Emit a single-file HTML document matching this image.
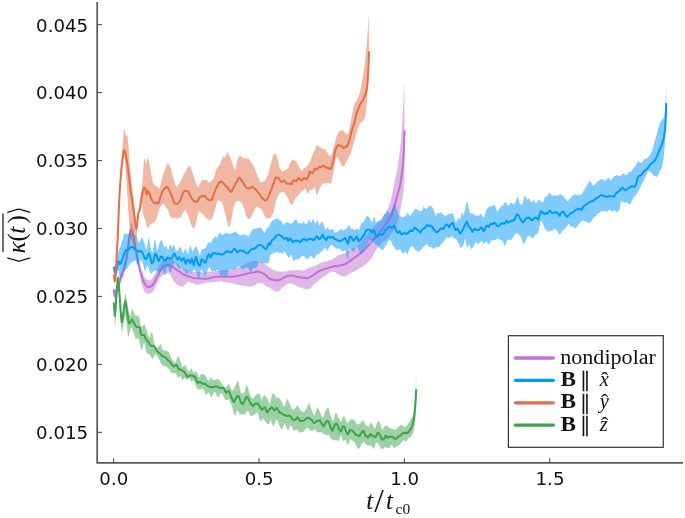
<!DOCTYPE html>
<html><head><meta charset="utf-8"><title>plot</title>
<style>
html,body{margin:0;padding:0;background:#fff;}
body{width:685px;height:518px;overflow:hidden;}
svg{display:block;}
.tk{font-family:"DejaVu Sans","Liberation Sans",sans-serif;font-size:18.2px;fill:#111;}
.lg{font-family:"Liberation Serif","DejaVu Serif",serif;font-size:20.5px;fill:#111;}
.hat{font-family:"Liberation Serif",serif;font-size:22px;fill:#111;}
.br{font-family:"DejaVu Sans",sans-serif;stroke:#fff;stroke-width:0.55px;}
.gl{font-family:"Liberation Serif","DejaVu Serif",serif;font-size:25px;fill:#111;}
</style></head><body>
<svg width="685" height="518" viewBox="0 0 685 518">
<rect width="685" height="518" fill="#fff"/>
<path d="M113.7,287.0 L114.6,291.0 L114.7,290.9 L115.7,288.0 L116.0,286.9 L116.7,284.9 L117.7,281.9 L118.0,280.9 L118.7,278.8 L119.7,275.7 L120.0,274.9 L120.7,273.2 L121.7,270.7 L122.0,269.9 L122.7,267.8 L123.7,264.6 L124.0,263.5 L124.7,260.9 L125.7,256.6 L126.0,255.0 L126.7,250.7 L127.5,245.0 L127.7,243.5 L128.7,235.2 L129.0,233.0 L129.7,228.3 L130.3,225.0 L130.7,223.1 L131.3,221.3 L131.7,222.0 L132.3,223.9 L132.7,225.6 L133.5,230.0 L133.7,231.2 L134.7,238.0 L135.0,240.0 L135.7,244.1 L136.4,248.0 L136.7,249.7 L137.7,255.0 L138.7,260.1 L139.0,261.4 L139.7,264.2 L140.7,267.8 L141.7,270.8 L141.8,270.9 L142.7,273.1 L143.7,275.5 L144.5,277.1 L144.7,277.4 L145.7,278.5 L146.7,279.4 L147.2,279.8 L147.7,280.0 L148.7,279.9 L149.7,280.2 L149.9,280.7 L150.7,280.3 L151.7,279.1 L152.6,277.8 L152.7,277.5 L153.7,275.8 L154.7,274.0 L155.3,272.9 L155.7,272.3 L156.7,270.3 L157.7,268.1 L158.6,266.3 L158.7,266.0 L159.7,264.4 L160.7,262.8 L161.7,261.4 L162.0,261.2 L162.7,260.6 L163.7,259.8 L164.7,259.3 L165.4,258.8 L165.7,258.6 L166.7,258.2 L167.7,258.0 L168.7,258.2 L168.8,258.4 L169.7,258.6 L170.7,259.0 L171.7,259.7 L172.7,260.2 L172.8,260.0 L173.7,260.7 L174.7,261.6 L175.7,262.5 L176.7,263.3 L176.9,263.4 L177.7,263.9 L178.7,264.5 L179.7,265.4 L180.7,266.2 L180.9,266.1 L181.7,266.5 L182.7,267.3 L183.7,268.3 L184.7,269.1 L185.7,269.3 L186.4,269.6 L186.7,269.7 L187.7,270.0 L188.7,270.5 L189.7,270.9 L190.7,271.4 L191.7,272.1 L191.8,272.1 L192.7,272.1 L193.7,272.0 L194.7,272.0 L195.7,272.3 L196.7,272.2 L197.2,272.0 L197.7,272.3 L198.7,272.4 L199.7,272.2 L200.7,272.1 L201.7,272.3 L202.7,272.7 L203.7,272.7 L204.7,272.6 L205.3,272.4 L205.7,272.2 L206.7,272.1 L207.7,271.9 L208.7,271.8 L209.7,271.6 L210.7,271.7 L211.7,272.0 L212.7,271.8 L213.7,271.7 L214.7,271.7 L215.0,271.5 L215.7,271.1 L216.7,271.0 L217.7,271.1 L218.7,271.1 L219.7,270.6 L220.6,270.5 L220.7,270.7 L221.7,270.5 L222.7,270.1 L223.7,269.9 L224.7,270.1 L225.7,270.2 L226.7,269.9 L227.0,269.6 L227.7,269.9 L228.7,270.3 L229.7,270.0 L230.7,269.5 L231.7,269.3 L232.7,269.0 L233.2,268.7 L233.7,268.4 L234.7,268.0 L235.7,267.5 L236.7,267.5 L237.7,267.7 L238.7,267.3 L239.7,266.6 L240.7,266.3 L241.7,266.0 L242.7,265.5 L243.7,265.1 L244.7,264.5 L245.7,263.8 L246.7,263.2 L247.7,262.7 L248.7,262.4 L249.7,262.2 L250.7,262.0 L250.8,261.7 L251.7,261.3 L252.7,261.0 L253.7,260.9 L254.7,260.8 L255.7,260.8 L255.8,261.0 L256.7,261.0 L257.7,261.2 L258.7,261.7 L259.7,261.7 L260.7,261.6 L260.8,261.4 L261.7,261.4 L262.7,262.0 L263.7,263.0 L264.7,264.1 L265.7,264.7 L265.8,264.6 L266.7,265.3 L267.7,266.2 L268.7,267.1 L269.7,267.7 L270.0,267.6 L270.7,268.1 L271.7,268.9 L272.7,269.4 L273.7,269.8 L274.7,270.2 L275.0,270.1 L275.7,270.5 L276.7,271.0 L277.7,271.4 L278.7,271.5 L279.7,271.5 L280.0,271.5 L280.7,271.7 L281.7,271.6 L282.7,271.5 L283.7,271.6 L284.7,271.5 L285.0,271.5 L285.7,271.5 L286.7,271.4 L287.7,271.1 L288.7,270.5 L289.7,270.4 L290.0,270.6 L290.7,270.4 L291.7,270.1 L292.7,270.4 L293.7,270.5 L294.7,270.1 L295.7,270.0 L296.0,270.2 L296.7,270.2 L297.7,270.0 L298.7,269.8 L299.7,269.9 L300.7,270.4 L301.7,270.5 L302.7,270.4 L303.7,270.6 L304.7,270.5 L305.7,269.7 L306.7,268.8 L307.7,268.5 L308.7,268.2 L309.7,267.9 L310.0,267.7 L310.7,267.4 L311.7,266.9 L312.7,266.3 L313.7,266.3 L314.7,266.0 L315.7,265.3 L316.7,264.8 L317.7,264.4 L318.7,264.0 L319.7,263.3 L320.7,262.6 L321.7,262.5 L322.7,262.1 L323.7,261.6 L324.7,261.4 L325.0,261.5 L325.7,261.4 L326.7,261.2 L327.7,260.9 L328.7,260.4 L329.7,260.1 L330.7,260.1 L331.7,259.8 L332.7,259.0 L332.8,258.7 L333.7,258.3 L334.7,257.9 L335.7,257.3 L336.7,256.4 L337.7,255.6 L338.7,254.9 L339.7,254.6 L340.0,254.7 L340.7,254.5 L341.7,254.1 L342.7,253.7 L343.7,253.4 L344.7,253.2 L345.7,252.9 L345.8,252.8 L346.7,252.1 L347.7,251.4 L348.7,250.8 L349.7,250.1 L350.7,249.2 L351.6,248.4 L351.7,248.4 L352.7,247.9 L353.7,247.6 L354.7,247.4 L355.7,246.7 L356.7,245.9 L357.7,245.4 L358.0,245.2 L358.7,244.9 L359.7,244.3 L360.7,243.1 L361.7,241.8 L362.7,240.3 L363.7,238.6 L364.7,237.4 L365.0,237.4 L365.7,236.6 L366.7,235.1 L367.7,233.7 L368.7,232.5 L369.7,231.3 L370.7,230.1 L371.7,229.0 L372.7,227.8 L373.7,226.6 L373.8,226.5 L374.7,225.6 L375.7,224.8 L376.7,223.9 L377.7,222.7 L378.7,221.8 L379.6,220.9 L379.7,220.6 L380.7,219.4 L381.7,218.4 L382.7,217.2 L383.7,215.5 L384.7,213.8 L385.7,212.2 L386.7,210.8 L387.7,209.0 L388.4,207.4 L388.7,206.6 L389.7,203.6 L390.5,200.9 L390.7,200.1 L391.7,196.3 L392.0,195.1 L392.7,191.6 L393.6,187.0 L393.7,186.5 L394.7,181.5 L395.0,180.0 L395.7,176.6 L396.7,171.6 L397.0,170.0 L397.7,165.8 L398.7,159.2 L399.0,157.0 L399.7,151.7 L400.7,143.0 L401.0,140.0 L401.7,131.7 L402.5,120.0 L402.7,116.5 L403.5,100.0 L403.7,94.7 L404.3,81.7 L404.5,130.2 L404.5,130.2 L404.4,180.0 L403.7,189.4 L403.3,192.0 L403.0,195.0 L402.7,197.2 L401.7,202.7 L401.5,203.8 L400.7,208.4 L399.7,213.7 L399.3,215.4 L398.7,217.7 L397.7,220.7 L396.7,223.4 L396.4,224.2 L395.7,225.9 L394.7,228.1 L393.7,229.9 L392.7,231.7 L391.7,233.2 L390.7,234.5 L389.7,235.7 L388.7,237.0 L387.7,238.1 L386.9,238.9 L386.7,239.0 L385.7,239.9 L384.7,240.7 L383.7,241.4 L382.7,241.9 L381.7,242.8 L381.0,243.7 L380.7,244.0 L379.7,245.1 L378.7,246.2 L377.7,247.5 L377.0,248.5 L376.7,249.0 L375.7,250.5 L374.8,251.9 L374.7,251.9 L373.7,254.0 L372.7,256.1 L372.4,256.7 L371.7,257.7 L370.7,259.0 L369.7,260.3 L369.0,261.2 L368.7,261.5 L367.7,262.3 L366.7,263.0 L365.7,264.1 L364.7,265.0 L363.7,265.9 L363.2,266.4 L362.7,266.6 L361.7,267.0 L360.7,267.4 L359.7,268.0 L358.7,268.7 L357.7,269.2 L357.4,269.4 L356.7,270.2 L355.7,270.9 L354.7,271.3 L353.7,271.7 L352.7,272.2 L351.7,272.5 L351.0,272.8 L350.7,272.9 L349.7,273.5 L348.7,274.1 L348.0,274.5 L347.7,274.9 L346.7,275.8 L345.7,276.4 L344.7,276.5 L344.0,276.4 L343.7,276.5 L342.7,276.3 L341.7,275.9 L340.7,275.5 L339.7,274.9 L338.7,274.3 L338.0,274.1 L337.7,274.2 L336.7,273.5 L335.7,272.6 L334.7,272.1 L333.7,271.8 L332.8,271.5 L332.7,271.4 L331.7,271.7 L330.7,272.2 L329.7,272.6 L328.7,273.3 L327.7,274.0 L326.7,274.5 L326.0,275.1 L325.7,275.5 L324.7,276.0 L323.7,276.4 L322.7,277.1 L321.7,278.2 L320.7,279.1 L320.3,279.2 L319.7,279.5 L318.7,280.5 L317.7,281.4 L316.7,282.2 L315.7,282.9 L314.7,283.4 L314.0,283.9 L313.7,284.3 L312.7,285.6 L311.7,287.0 L310.7,288.0 L309.7,288.6 L308.7,289.2 L307.7,289.3 L306.7,289.2 L305.7,289.4 L304.7,289.3 L303.7,288.7 L302.7,288.2 L301.7,287.7 L300.7,287.5 L299.7,287.4 L298.7,287.0 L298.0,286.6 L297.7,286.5 L296.7,286.1 L295.7,285.7 L294.7,285.0 L293.7,284.3 L292.7,283.8 L291.7,283.4 L290.7,283.5 L290.0,283.8 L289.7,283.7 L288.7,283.6 L287.7,283.7 L286.7,284.2 L285.7,285.1 L284.7,286.2 L283.7,286.8 L283.0,287.0 L282.7,287.5 L281.7,288.6 L280.7,289.5 L279.7,290.7 L278.7,291.6 L277.7,292.2 L277.5,292.2 L276.7,291.5 L275.7,291.0 L274.7,290.7 L273.7,290.4 L272.7,289.7 L271.7,289.1 L270.7,288.3 L270.0,287.6 L269.7,287.5 L268.7,287.4 L267.7,286.8 L266.7,286.4 L265.8,285.9 L265.7,285.7 L264.7,285.1 L263.7,284.3 L262.7,283.4 L261.7,282.9 L260.8,283.1 L260.7,283.0 L259.7,283.0 L258.7,283.3 L257.7,283.5 L256.7,283.8 L255.8,284.5 L255.7,284.8 L254.7,285.2 L253.7,285.6 L252.7,286.0 L251.7,286.6 L250.8,286.8 L250.7,286.7 L249.7,286.6 L248.7,286.5 L247.7,286.5 L246.7,286.1 L245.7,285.8 L244.7,286.0 L243.7,285.8 L242.7,285.5 L241.7,285.7 L240.7,285.6 L239.7,285.1 L238.7,285.1 L237.7,285.2 L236.7,284.8 L235.7,284.5 L234.7,284.1 L233.7,283.7 L233.2,283.7 L232.7,283.5 L231.7,283.3 L230.7,283.1 L229.7,282.7 L228.7,282.7 L227.7,282.8 L227.0,282.4 L226.7,282.2 L225.7,282.2 L224.7,282.2 L223.7,282.2 L222.7,281.6 L221.7,281.1 L220.7,281.1 L220.6,281.3 L219.7,281.3 L218.7,281.4 L217.7,281.6 L216.7,281.5 L215.7,281.8 L215.0,282.3 L214.7,282.2 L213.7,282.1 L212.7,282.1 L211.7,282.0 L210.7,282.3 L209.7,282.4 L208.7,282.4 L208.0,282.4 L207.7,282.4 L206.7,282.6 L205.7,282.7 L204.7,283.0 L203.7,283.5 L202.7,284.0 L202.6,284.0 L201.7,283.9 L200.7,283.8 L199.7,284.1 L198.7,284.6 L197.7,284.8 L197.2,284.8 L196.7,285.0 L195.7,284.7 L194.7,284.1 L193.7,283.5 L193.1,283.2 L192.7,283.1 L191.7,283.1 L190.7,282.7 L189.7,282.1 L189.0,281.9 L188.7,281.8 L187.7,282.0 L186.7,283.0 L185.7,284.2 L185.0,284.6 L184.7,284.8 L183.7,285.8 L182.7,286.6 L181.7,286.8 L181.6,286.4 L180.7,286.3 L179.7,286.0 L179.6,285.7 L178.7,285.2 L177.7,284.8 L176.7,284.0 L176.2,283.5 L175.7,283.1 L174.7,282.1 L173.7,281.1 L173.5,280.9 L172.7,279.4 L171.7,277.2 L170.8,275.7 L170.7,275.6 L169.7,274.2 L168.7,273.1 L168.1,273.1 L167.7,273.2 L166.7,273.3 L165.7,273.8 L164.7,274.3 L164.0,274.4 L163.7,274.5 L162.7,275.2 L161.7,276.1 L160.7,277.1 L159.7,278.6 L158.7,280.4 L157.7,282.4 L157.3,283.1 L156.7,284.3 L155.7,286.5 L154.7,288.4 L153.9,290.0 L153.7,290.4 L152.7,291.5 L151.7,292.5 L151.2,292.7 L150.7,292.9 L149.7,293.6 L148.7,294.2 L148.5,294.2 L147.7,293.8 L146.7,293.4 L145.8,292.9 L145.7,292.7 L144.7,291.5 L143.7,289.7 L143.1,288.5 L142.7,287.5 L141.7,284.4 L141.0,281.7 L140.7,280.4 L139.7,274.9 L139.0,271.0 L138.7,269.6 L137.7,265.0 L136.7,260.4 L136.4,259.0 L135.7,255.5 L135.0,252.0 L134.7,250.4 L133.7,245.0 L133.5,244.0 L132.7,239.6 L132.3,238.0 L131.7,236.3 L131.3,235.8 L130.7,237.4 L130.3,239.1 L129.7,242.2 L129.0,247.0 L128.7,249.3 L127.7,257.6 L127.5,259.0 L126.7,263.6 L126.0,267.0 L125.7,268.2 L124.7,272.1 L124.0,274.4 L123.7,275.4 L122.7,278.1 L122.0,280.0 L121.7,280.8 L120.7,283.2 L120.0,285.0 L119.7,285.8 L118.7,288.8 L118.0,291.0 L117.7,291.9 L116.7,294.9 L116.0,297.0 L115.7,298.0 L114.7,301.0 L114.6,301.0 L113.7,292.0Z" fill="#C271D2" fill-opacity="0.5" stroke="none"/>
<path d="M113.7,289.3 L114.6,296.0 L114.7,295.9 L115.7,293.0 L116.0,292.0 L116.7,289.9 L117.7,286.9 L118.0,286.0 L118.7,283.9 L119.7,280.8 L120.0,279.9 L120.7,278.2 L121.7,275.8 L122.0,275.0 L122.7,273.0 L123.7,269.9 L124.0,269.0 L124.7,266.5 L125.7,262.4 L126.0,261.0 L126.7,257.2 L127.5,252.0 L127.7,250.5 L128.7,242.2 L129.0,240.0 L129.7,235.2 L130.3,232.0 L130.7,230.3 L131.3,229.2 L131.7,229.5 L132.3,231.0 L132.7,232.6 L133.5,237.0 L133.7,238.1 L134.7,244.3 L135.0,246.0 L135.7,249.6 L136.4,253.0 L136.7,254.5 L137.7,259.5 L138.7,264.2 L139.0,265.5 L139.7,268.5 L140.7,272.5 L141.0,273.6 L141.7,276.1 L142.7,279.4 L143.1,280.5 L143.7,281.8 L144.7,283.6 L145.7,285.0 L145.8,285.1 L146.7,286.2 L147.7,287.2 L148.5,287.3 L148.7,287.0 L149.7,286.6 L150.7,286.3 L151.2,286.4 L151.7,286.1 L152.7,284.8 L153.7,283.4 L153.9,283.2 L154.7,281.7 L155.7,279.6 L156.7,277.5 L157.3,276.4 L157.7,275.7 L158.7,273.7 L159.7,271.8 L160.7,270.1 L161.7,268.6 L162.7,267.3 L163.7,266.3 L164.0,266.2 L164.7,265.9 L165.7,265.4 L166.7,265.1 L167.4,264.9 L167.7,264.7 L168.7,264.9 L169.7,265.5 L170.7,265.9 L171.5,266.3 L171.7,266.3 L172.7,266.9 L173.7,267.6 L174.7,268.4 L175.5,269.0 L175.7,269.1 L176.7,269.9 L177.7,270.6 L178.7,271.2 L179.6,271.7 L179.7,271.7 L180.7,272.4 L181.7,273.3 L182.7,273.9 L183.7,274.5 L184.7,275.0 L185.0,275.1 L185.7,275.4 L186.7,275.9 L187.7,276.3 L188.7,276.5 L189.7,276.8 L190.4,277.0 L190.7,277.1 L191.7,277.4 L192.7,277.8 L193.7,278.1 L194.7,278.2 L195.7,278.3 L195.8,278.3 L196.7,278.3 L197.7,278.4 L198.7,278.5 L199.7,278.5 L200.7,278.6 L201.7,278.6 L202.6,278.5 L202.7,278.6 L203.7,278.7 L204.7,278.7 L205.7,278.7 L206.7,278.7 L207.7,278.6 L208.7,278.4 L209.3,278.2 L209.7,278.1 L210.7,277.8 L211.7,277.5 L212.7,277.4 L213.7,277.3 L214.7,277.1 L215.0,276.9 L215.7,276.8 L216.7,276.8 L217.7,276.8 L218.7,276.8 L219.7,276.7 L220.6,276.6 L220.7,276.5 L221.7,276.6 L222.7,276.7 L223.7,276.7 L224.7,276.7 L225.7,276.7 L226.7,276.7 L227.0,276.6 L227.7,276.6 L228.7,276.8 L229.7,277.0 L230.7,276.9 L231.7,276.5 L232.7,276.5 L233.2,276.7 L233.7,276.6 L234.7,276.4 L235.7,276.3 L236.7,276.2 L237.7,275.9 L238.7,275.7 L239.0,275.7 L239.7,275.5 L240.7,275.1 L241.7,274.8 L242.7,274.6 L243.7,274.4 L244.7,274.3 L245.7,274.0 L246.7,273.7 L247.7,273.4 L248.7,273.2 L249.7,273.0 L250.7,272.7 L251.7,272.5 L252.0,272.7 L252.7,272.6 L253.7,272.5 L254.7,272.3 L255.7,271.9 L256.7,271.7 L257.7,271.5 L258.3,271.5 L258.7,271.6 L259.7,272.0 L260.7,272.3 L261.7,272.8 L262.0,272.9 L262.7,273.2 L263.7,273.9 L264.7,274.7 L265.7,275.2 L265.8,274.9 L266.7,276.0 L267.7,277.3 L268.7,278.2 L269.7,278.9 L270.0,279.0 L270.7,279.1 L271.7,279.5 L272.7,279.9 L273.7,280.0 L274.7,280.1 L275.7,280.3 L276.7,280.5 L277.5,280.5 L277.7,280.3 L278.7,280.3 L279.7,280.0 L280.7,279.3 L281.7,278.7 L282.7,278.1 L283.0,277.9 L283.7,277.6 L284.7,277.4 L285.7,276.7 L286.7,276.1 L287.7,275.9 L288.7,275.8 L289.7,275.6 L290.0,275.6 L290.7,275.6 L291.7,275.5 L292.7,275.6 L293.7,275.8 L294.7,276.2 L295.7,276.5 L296.7,276.8 L297.7,277.0 L298.0,277.0 L298.7,277.1 L299.7,277.2 L300.7,277.3 L301.7,277.6 L302.7,277.7 L303.7,277.7 L304.7,277.9 L305.7,278.0 L306.7,278.1 L307.7,278.2 L308.7,277.9 L309.7,277.4 L310.7,276.7 L311.7,276.0 L312.7,275.4 L313.7,274.8 L314.0,274.4 L314.7,274.1 L315.7,273.5 L316.7,272.7 L317.7,272.0 L318.7,271.4 L319.7,270.8 L320.3,270.5 L320.7,270.4 L321.7,270.0 L322.7,269.5 L323.7,269.2 L324.7,268.9 L325.7,268.7 L326.0,268.6 L326.7,268.4 L327.7,268.0 L328.7,267.7 L329.7,267.4 L330.7,267.1 L331.7,266.9 L332.7,266.8 L332.8,266.7 L333.7,266.3 L334.7,266.0 L335.7,266.0 L336.7,266.2 L337.7,266.3 L338.7,266.1 L339.7,265.6 L340.0,265.5 L340.7,265.3 L341.7,265.0 L342.7,264.9 L343.7,264.7 L344.7,264.3 L345.7,263.8 L345.8,263.7 L346.7,263.2 L347.7,262.3 L348.7,261.7 L349.7,261.1 L350.7,260.3 L351.6,259.6 L351.7,259.6 L352.7,259.0 L353.7,258.3 L354.7,257.5 L355.7,256.6 L356.7,256.0 L357.4,255.5 L357.7,255.4 L358.7,254.7 L359.7,254.0 L360.7,253.2 L361.7,252.5 L362.7,251.3 L363.2,250.8 L363.7,250.5 L364.7,249.6 L365.7,248.6 L366.7,247.5 L367.7,246.4 L368.7,245.3 L369.0,244.9 L369.7,244.1 L370.7,243.1 L371.7,242.0 L372.7,240.6 L373.7,239.2 L374.7,238.1 L374.8,238.2 L375.7,237.1 L376.7,235.9 L377.7,234.7 L378.7,233.5 L379.7,232.2 L380.6,230.9 L380.7,230.9 L381.7,229.9 L382.7,228.7 L383.7,227.3 L384.7,226.0 L385.7,224.6 L386.3,223.6 L386.7,223.1 L387.7,221.6 L388.7,220.1 L389.5,218.6 L389.7,218.1 L390.7,216.6 L391.5,215.0 L391.7,214.5 L392.7,211.4 L393.7,208.0 L394.7,204.8 L395.7,201.4 L395.8,201.0 L396.7,197.4 L397.2,195.4 L397.7,193.7 L398.7,190.6 L399.4,188.0 L399.7,186.7 L400.7,181.8 L401.0,180.0 L401.7,174.9 L402.3,170.0 L402.7,167.1 L403.2,162.8 L403.7,154.8 L404.0,148.0 L404.5,130.2" fill="none" stroke="#C271D2" stroke-width="2" stroke-linejoin="round" stroke-linecap="butt"/>
<path d="M113.8,262.0 L114.8,267.1 L115.4,268.1 L115.8,267.5 L116.8,262.1 L117.8,255.1 L118.4,252.2 L118.8,250.8 L119.8,248.0 L120.0,247.5 L120.8,245.3 L121.8,242.1 L122.5,239.9 L122.8,239.0 L123.8,235.3 L124.8,233.1 L125.0,233.4 L125.8,233.8 L126.8,234.4 L127.5,233.6 L127.8,233.8 L128.8,233.4 L129.8,231.9 L130.0,230.8 L130.8,231.8 L131.8,233.7 L132.8,234.6 L133.0,234.7 L133.8,234.8 L134.8,235.1 L135.8,235.2 L136.4,235.1 L136.8,236.4 L137.0,237.2 L137.8,240.0 L138.8,242.6 L139.0,242.7 L139.8,241.5 L140.8,239.0 L141.8,237.5 L142.8,239.0 L143.8,241.6 L144.8,244.6 L145.1,245.3 L145.8,248.1 L146.5,250.2 L146.8,249.5 L147.8,241.3 L148.5,237.7 L148.8,238.1 L149.8,242.9 L150.8,248.7 L151.2,250.0 L151.8,251.3 L152.6,252.4 L152.8,252.0 L153.8,245.3 L154.8,239.3 L155.0,239.1 L155.8,241.9 L156.8,249.3 L157.3,250.9 L157.8,249.9 L158.8,245.7 L159.8,242.0 L160.0,241.7 L160.8,240.8 L161.8,240.0 L162.0,240.2 L162.8,243.4 L163.8,247.6 L164.0,247.5 L164.8,246.9 L165.8,245.9 L166.0,245.8 L166.8,246.9 L167.8,249.7 L168.1,250.2 L168.8,248.7 L169.8,245.3 L170.1,245.0 L170.8,244.9 L171.8,246.7 L172.2,247.8 L172.8,246.8 L173.8,244.8 L174.2,244.9 L174.8,246.6 L175.8,250.7 L176.2,251.0 L176.8,250.8 L177.8,250.2 L178.8,249.5 L178.9,248.4 L179.8,247.3 L180.8,247.4 L180.9,247.3 L181.8,249.7 L182.8,252.7 L183.0,253.0 L183.8,252.1 L184.8,249.4 L185.7,248.7 L185.8,248.8 L186.8,251.7 L187.7,254.7 L187.8,253.9 L188.8,250.8 L189.8,246.3 L190.4,245.2 L190.8,245.9 L191.8,250.1 L192.4,251.5 L192.8,251.4 L193.8,249.6 L194.8,247.4 L195.8,246.5 L196.8,247.3 L197.8,250.0 L198.5,252.0 L198.8,253.2 L199.8,255.9 L199.9,255.1 L200.8,252.5 L201.8,249.7 L202.6,248.8 L202.8,248.8 L203.8,248.9 L204.8,248.4 L205.3,247.7 L205.8,247.5 L206.8,245.3 L207.8,242.9 L208.6,242.4 L208.8,242.1 L209.8,242.4 L210.7,242.6 L210.8,242.6 L211.8,241.4 L212.8,239.1 L213.4,238.8 L213.8,238.2 L214.8,236.6 L215.0,236.0 L215.8,236.8 L216.5,237.6 L216.8,238.2 L217.8,236.3 L218.8,234.3 L219.0,233.5 L219.8,233.0 L220.8,233.8 L221.8,234.6 L222.5,234.5 L222.8,234.9 L223.8,234.5 L224.8,233.5 L225.8,232.8 L226.0,232.8 L226.8,233.1 L227.8,233.4 L228.8,233.5 L229.8,234.0 L230.0,234.4 L230.8,233.7 L231.8,233.0 L232.8,233.1 L233.8,232.7 L234.7,231.7 L234.8,231.0 L235.8,231.8 L236.8,233.1 L237.8,233.7 L238.0,234.3 L238.8,234.9 L239.8,235.1 L240.8,235.3 L241.7,235.4 L241.8,235.1 L242.8,234.8 L243.8,234.7 L244.8,234.6 L245.0,234.2 L245.8,234.6 L246.8,235.8 L247.8,236.0 L248.6,235.8 L248.8,236.1 L249.8,234.6 L250.8,232.7 L251.0,232.4 L251.8,230.8 L252.8,229.3 L253.8,228.9 L254.8,228.8 L255.8,228.4 L256.8,228.1 L257.0,228.2 L257.8,228.4 L258.8,227.9 L259.8,227.4 L260.8,227.3 L261.8,228.2 L262.8,230.3 L263.0,230.4 L263.8,231.8 L264.8,233.0 L265.0,232.3 L265.8,230.8 L266.8,228.0 L267.0,228.1 L267.8,227.6 L268.8,226.8 L269.4,225.8 L269.8,224.5 L270.0,224.0 L270.8,222.7 L271.8,221.2 L272.8,220.3 L272.9,220.6 L273.8,220.2 L274.8,219.3 L275.8,218.5 L276.6,218.4 L276.8,218.7 L277.8,218.6 L278.8,219.2 L279.8,220.4 L280.2,220.0 L280.8,220.3 L281.8,222.3 L282.8,223.5 L283.1,224.5 L283.8,225.0 L284.8,223.5 L285.8,222.0 L286.0,222.0 L286.8,222.4 L287.8,222.5 L288.8,223.2 L289.0,223.6 L289.8,222.9 L290.8,223.6 L291.8,224.3 L291.9,223.3 L292.8,222.3 L293.8,221.6 L294.1,220.9 L294.8,219.7 L295.8,219.6 L296.3,220.0 L296.8,220.8 L297.8,223.0 L298.5,224.1 L298.8,223.5 L299.8,222.8 L300.8,223.3 L301.4,224.1 L301.8,223.4 L302.8,222.1 L303.8,221.6 L304.3,222.6 L304.8,223.4 L305.8,223.7 L306.8,223.9 L307.2,223.4 L307.8,222.7 L308.8,219.5 L309.1,219.1 L309.8,220.4 L310.8,223.2 L310.9,222.7 L311.8,221.7 L312.8,219.1 L313.1,218.5 L313.8,220.3 L314.8,223.0 L315.3,223.5 L315.8,222.8 L316.8,220.9 L317.4,220.4 L317.8,220.5 L318.8,223.7 L319.6,225.5 L319.8,225.2 L320.8,222.9 L321.8,221.0 L322.8,222.8 L323.8,225.2 L324.0,225.4 L324.8,228.1 L325.5,229.7 L325.8,229.7 L326.8,228.2 L327.7,227.4 L327.8,227.6 L328.8,229.1 L329.8,230.5 L329.9,230.1 L330.8,229.7 L331.8,229.0 L332.0,229.1 L332.8,229.2 L333.8,230.3 L334.2,231.2 L334.8,232.4 L335.8,232.4 L336.8,231.8 L337.2,231.5 L337.8,232.0 L338.8,231.0 L339.8,229.1 L340.1,228.8 L340.8,229.4 L341.8,229.6 L342.8,230.1 L343.0,230.8 L343.8,230.3 L344.8,229.4 L345.8,228.5 L345.9,228.9 L346.8,228.3 L347.8,226.4 L348.8,225.3 L349.6,225.4 L349.8,225.8 L350.8,229.1 L351.0,229.0 L351.8,228.7 L352.8,228.7 L353.8,229.0 L353.9,229.9 L354.8,230.2 L355.8,229.1 L356.8,228.7 L356.9,229.0 L357.8,229.3 L358.8,229.8 L359.0,229.8 L359.8,228.1 L360.8,224.2 L361.2,223.3 L361.8,222.8 L362.8,222.5 L363.8,221.5 L364.2,220.7 L364.8,219.4 L365.8,217.4 L366.4,217.1 L366.8,216.4 L367.8,215.3 L367.9,215.8 L368.8,217.1 L369.8,218.8 L370.1,219.3 L370.8,220.7 L371.8,222.1 L372.3,221.4 L372.8,221.4 L373.8,217.8 L374.5,217.0 L374.8,217.2 L375.8,222.2 L375.9,222.2 L376.8,221.9 L377.8,221.5 L378.1,221.3 L378.8,220.9 L379.8,220.8 L380.8,220.5 L381.0,220.6 L381.8,219.8 L382.8,217.6 L383.8,215.2 L384.0,214.6 L384.8,214.0 L385.8,213.7 L386.8,213.0 L386.9,211.5 L387.8,210.9 L388.8,211.9 L389.8,213.0 L390.8,212.4 L391.8,210.3 L392.0,210.0 L392.8,208.1 L393.8,205.5 L394.8,203.9 L394.9,204.0 L395.8,206.2 L396.8,210.1 L397.1,211.0 L397.8,212.7 L398.8,214.9 L399.3,215.2 L399.8,215.4 L400.8,216.5 L401.8,217.4 L402.2,217.3 L402.8,216.9 L403.8,216.7 L404.8,216.3 L405.1,216.5 L405.8,215.5 L406.8,213.4 L407.3,212.9 L407.8,213.6 L408.8,214.5 L409.8,215.6 L410.3,216.2 L410.8,215.5 L411.8,213.8 L412.8,212.2 L413.2,212.0 L413.8,211.1 L414.8,209.2 L415.8,208.6 L416.1,209.1 L416.8,209.2 L417.8,209.8 L418.8,211.0 L419.0,211.3 L419.8,211.2 L420.8,211.0 L421.8,210.9 L421.9,211.3 L422.8,208.7 L423.4,206.3 L423.8,206.4 L424.8,208.3 L425.8,209.0 L426.3,208.8 L426.8,208.7 L427.8,207.7 L428.8,206.5 L429.2,205.7 L429.8,205.7 L430.8,205.9 L431.8,206.2 L432.2,207.1 L432.8,208.0 L433.8,211.1 L434.3,212.5 L434.8,214.0 L435.8,215.9 L436.8,214.6 L437.8,212.5 L438.0,213.0 L438.8,213.6 L439.8,213.0 L440.8,212.1 L441.0,212.2 L441.8,213.1 L442.8,214.5 L443.8,215.1 L444.8,215.5 L445.8,216.3 L446.8,215.5 L447.8,214.3 L448.8,214.2 L449.7,213.7 L449.8,213.8 L450.8,213.8 L451.8,213.3 L452.6,212.9 L452.8,212.8 L453.8,215.9 L454.8,219.8 L455.8,222.2 L456.2,222.2 L456.8,221.2 L457.8,218.7 L458.4,218.2 L458.8,217.9 L459.8,219.3 L460.0,219.0 L460.8,217.3 L461.8,212.3 L462.2,212.2 L462.8,213.2 L463.6,215.9 L463.8,215.2 L464.8,210.6 L465.8,205.6 L466.8,202.6 L467.3,201.7 L467.8,202.9 L468.8,208.6 L469.5,211.7 L469.8,212.7 L470.8,213.6 L471.8,213.3 L472.4,213.4 L472.8,214.0 L473.8,214.6 L474.8,215.0 L475.3,215.4 L475.8,215.8 L476.8,216.0 L477.8,215.6 L478.2,215.6 L478.8,215.8 L479.8,214.7 L480.8,213.5 L481.2,214.1 L481.8,215.5 L482.8,216.8 L483.8,217.5 L484.0,217.3 L484.8,215.5 L485.8,211.3 L486.3,210.0 L486.8,209.3 L487.8,208.1 L488.8,207.1 L489.2,207.0 L489.8,206.7 L490.8,206.2 L491.4,205.9 L491.8,205.7 L492.8,205.8 L493.8,205.5 L494.3,204.8 L494.8,205.1 L495.8,208.1 L496.8,211.1 L497.2,211.7 L497.8,210.7 L498.8,209.3 L499.8,208.5 L500.1,208.2 L500.8,206.6 L501.8,205.5 L502.8,205.3 L503.0,205.5 L503.8,204.0 L504.8,202.3 L505.5,202.2 L505.8,202.0 L506.8,203.3 L507.8,205.2 L508.2,205.9 L508.8,205.5 L509.8,203.9 L510.4,202.9 L510.8,202.5 L511.8,202.7 L512.8,203.7 L513.3,204.5 L513.8,204.1 L514.8,203.2 L515.5,202.3 L515.8,201.3 L516.8,198.3 L517.7,196.1 L517.8,196.9 L518.8,200.1 L519.8,203.5 L519.9,203.2 L520.8,204.2 L521.8,205.5 L522.0,205.6 L522.8,203.2 L523.8,198.9 L524.8,195.4 L525.0,195.2 L525.8,196.9 L526.8,199.3 L527.2,199.7 L527.8,199.0 L528.6,198.6 L528.8,198.4 L529.8,199.6 L530.8,202.0 L531.5,202.6 L531.8,202.6 L532.8,201.1 L533.7,200.2 L533.8,199.8 L534.8,201.3 L535.8,203.6 L535.9,203.9 L536.8,202.7 L537.8,200.9 L538.8,199.2 L539.8,199.9 L540.8,201.6 L541.0,201.9 L541.8,201.9 L542.8,202.0 L543.2,201.9 L543.8,200.7 L544.7,197.3 L544.8,197.3 L545.8,196.4 L546.8,196.1 L547.6,195.7 L547.8,195.5 L548.8,193.5 L549.8,192.5 L550.8,193.9 L551.8,195.7 L552.0,195.5 L552.8,195.6 L553.8,195.7 L554.8,195.0 L554.9,194.8 L555.8,195.4 L556.8,196.0 L557.8,195.5 L558.8,194.7 L559.8,194.4 L560.0,194.3 L560.7,194.0 L560.8,194.2 L561.8,195.1 L562.8,195.7 L563.8,196.4 L564.0,197.2 L564.8,198.5 L565.8,199.4 L566.8,200.4 L567.0,201.2 L567.8,201.2 L568.8,200.2 L569.8,198.6 L570.5,197.8 L570.8,197.5 L571.8,196.4 L572.8,195.4 L573.8,194.7 L574.6,194.6 L574.8,194.4 L575.8,194.2 L576.8,194.6 L577.5,195.3 L577.8,195.5 L578.8,194.8 L579.8,194.5 L580.8,195.0 L581.8,194.2 L582.8,192.1 L583.5,190.8 L583.8,190.7 L584.8,189.2 L585.8,187.1 L586.5,185.7 L586.8,185.6 L587.8,183.7 L588.8,181.9 L589.6,181.3 L589.8,181.1 L590.8,182.0 L591.8,183.2 L592.0,184.1 L592.8,185.1 L593.8,185.4 L594.6,184.8 L594.8,184.4 L595.8,183.8 L596.8,182.4 L597.8,181.1 L598.0,181.3 L598.8,180.9 L599.8,179.9 L600.8,179.0 L601.0,179.3 L601.8,179.5 L602.8,179.3 L603.8,179.8 L604.5,180.6 L604.8,180.7 L605.8,180.4 L606.8,179.4 L607.8,177.7 L608.0,177.3 L608.8,178.2 L609.8,179.3 L610.8,180.0 L611.0,180.5 L611.8,179.5 L612.8,177.7 L613.8,176.6 L614.0,176.5 L614.8,175.9 L615.8,175.4 L616.8,174.9 L617.3,175.0 L617.8,176.0 L618.8,176.5 L619.8,175.8 L620.5,175.7 L620.8,175.5 L621.8,174.4 L622.8,173.4 L623.5,173.2 L623.8,173.9 L624.8,174.5 L625.8,174.6 L626.0,175.4 L626.8,175.3 L627.8,173.5 L628.5,172.1 L628.8,171.6 L629.8,171.9 L630.8,172.2 L631.0,171.7 L631.8,170.7 L632.8,169.0 L633.5,168.1 L633.8,167.8 L634.8,166.8 L635.8,165.5 L636.0,165.0 L636.8,163.6 L637.8,161.6 L638.6,161.1 L638.8,162.2 L639.8,162.4 L640.8,162.5 L641.5,162.6 L641.8,162.5 L642.8,161.5 L643.8,159.8 L644.5,158.4 L644.8,158.3 L645.8,158.9 L646.8,158.5 L647.0,158.1 L647.8,157.8 L648.8,156.7 L649.8,155.4 L650.0,154.8 L650.8,153.4 L651.8,151.4 L652.0,150.9 L652.8,148.4 L653.5,145.9 L653.8,144.7 L654.8,140.9 L655.0,140.2 L655.8,137.4 L656.5,135.0 L656.8,133.9 L657.8,129.7 L658.0,128.8 L658.8,126.0 L659.8,123.4 L660.0,123.2 L660.8,121.7 L661.8,120.2 L662.0,119.8 L662.8,119.1 L663.8,117.7 L664.8,111.8 L665.0,110.0 L665.8,98.0 L666.3,87.5 L666.3,103.1 L666.3,103.1 L665.8,125.0 L665.0,142.8 L664.8,145.8 L664.0,155.0 L663.8,156.8 L662.8,164.0 L662.5,165.4 L661.8,167.5 L660.8,169.7 L660.5,170.4 L659.8,171.6 L658.8,173.4 L658.5,174.0 L657.8,175.3 L656.8,176.9 L656.2,176.8 L655.8,176.2 L654.8,176.2 L653.8,176.1 L653.5,175.5 L652.8,174.6 L651.8,173.5 L651.0,172.7 L650.8,172.4 L649.8,171.6 L648.8,171.4 L648.7,170.8 L647.8,171.2 L646.8,173.8 L646.0,176.2 L645.8,176.5 L644.8,178.4 L643.8,180.3 L643.7,180.4 L642.8,181.9 L641.8,183.7 L641.5,184.7 L640.8,186.5 L639.8,188.4 L639.5,188.6 L638.8,189.9 L637.8,192.1 L637.4,192.9 L636.8,193.9 L635.8,195.1 L635.0,196.0 L634.8,196.3 L633.8,197.5 L632.8,198.8 L632.5,200.0 L631.8,201.3 L630.8,203.0 L629.8,204.5 L628.8,204.3 L627.8,202.9 L627.0,202.3 L626.8,202.4 L625.8,202.4 L624.8,202.5 L624.0,202.7 L623.8,202.6 L622.8,201.8 L621.8,201.2 L621.0,200.8 L620.8,201.3 L619.8,209.0 L618.8,210.6 L617.8,211.8 L617.0,211.9 L616.8,212.3 L615.8,211.4 L614.8,210.2 L614.0,210.3 L613.8,210.9 L612.8,211.3 L611.8,211.6 L611.0,211.6 L610.8,210.8 L609.8,209.8 L608.8,210.2 L608.0,211.0 L607.8,211.3 L606.8,211.7 L605.8,211.5 L605.0,210.7 L604.8,211.0 L603.8,211.5 L602.8,211.3 L602.0,210.8 L601.8,210.8 L600.8,211.6 L599.8,212.7 L599.0,213.5 L598.8,213.0 L597.8,213.5 L596.8,215.0 L596.0,216.1 L595.8,216.2 L594.8,217.0 L593.8,217.7 L593.0,218.2 L592.8,218.7 L591.8,220.4 L590.8,221.9 L589.8,222.8 L589.5,222.8 L588.8,223.1 L587.8,222.7 L586.8,221.7 L586.5,221.9 L585.8,221.9 L584.8,221.2 L583.8,220.2 L583.3,220.2 L582.8,220.9 L581.8,221.0 L580.8,221.6 L579.8,222.7 L579.5,223.2 L578.8,224.3 L577.8,225.6 L576.8,227.0 L575.8,228.1 L575.7,228.3 L574.8,228.1 L573.8,227.4 L572.8,226.3 L572.0,226.1 L571.8,226.9 L570.8,226.6 L569.8,225.3 L568.8,224.1 L568.2,224.0 L567.8,224.9 L566.8,226.0 L565.8,227.2 L565.5,228.0 L564.8,228.9 L563.8,229.3 L562.8,230.1 L562.5,230.8 L561.8,232.0 L560.8,233.5 L560.0,234.0 L559.8,234.7 L558.8,233.5 L557.8,231.6 L556.8,230.3 L555.8,229.3 L554.9,229.0 L554.8,228.7 L553.8,229.2 L552.8,230.5 L551.8,231.0 L551.2,230.6 L550.8,230.5 L549.8,230.9 L548.8,231.6 L547.8,232.3 L547.6,231.7 L546.8,230.4 L545.8,229.5 L545.4,229.8 L544.8,228.8 L543.8,226.1 L543.2,224.5 L542.8,223.7 L541.8,221.5 L541.5,220.9 L540.8,221.4 L540.3,222.5 L539.8,224.3 L538.8,230.4 L538.1,233.1 L537.8,233.5 L536.8,234.3 L535.8,234.8 L535.2,235.4 L534.8,236.0 L533.8,237.1 L532.8,237.8 L532.3,238.2 L531.8,238.3 L530.8,237.3 L529.8,236.1 L529.3,236.1 L528.8,236.2 L527.8,236.6 L526.8,237.5 L526.4,238.5 L525.8,240.2 L524.8,242.4 L523.8,243.7 L523.5,244.4 L522.8,242.9 L521.8,239.0 L521.3,237.7 L520.8,236.8 L519.8,235.3 L519.1,235.2 L518.8,235.3 L517.8,233.7 L516.8,233.1 L516.2,233.5 L515.8,233.4 L514.8,234.6 L514.0,235.9 L513.8,236.1 L512.8,237.7 L511.8,239.1 L511.1,240.1 L510.8,240.3 L509.8,240.1 L508.8,240.1 L507.8,239.8 L507.4,239.7 L506.8,241.1 L505.8,243.9 L504.8,246.1 L504.5,245.4 L503.8,244.1 L502.8,240.8 L502.3,240.7 L501.8,240.8 L500.8,240.0 L499.8,239.3 L498.8,238.9 L498.7,238.5 L497.8,238.5 L496.8,239.1 L495.8,239.5 L495.0,240.0 L494.8,240.2 L493.8,240.3 L492.8,240.4 L491.8,240.3 L491.4,240.3 L490.8,241.2 L489.8,243.3 L488.8,244.6 L488.5,244.3 L487.8,243.8 L486.8,241.9 L486.3,241.2 L485.8,241.7 L484.8,242.8 L483.8,243.8 L483.4,244.1 L482.8,242.8 L481.8,241.1 L481.2,241.5 L480.8,242.1 L479.8,242.6 L478.8,243.3 L478.2,244.0 L477.8,244.4 L476.8,243.1 L476.0,242.1 L475.8,242.6 L474.8,243.7 L473.9,244.9 L473.8,245.3 L472.8,247.5 L471.8,249.0 L471.7,249.6 L470.8,247.7 L469.8,244.9 L469.5,244.7 L468.8,245.1 L467.8,247.2 L467.3,247.7 L466.8,246.6 L465.8,240.6 L465.1,238.5 L464.8,239.2 L463.8,243.9 L462.9,246.6 L462.8,246.2 L461.8,247.0 L460.8,247.8 L460.0,247.8 L459.8,247.3 L459.2,244.0 L458.8,243.6 L457.8,242.4 L457.0,240.9 L456.8,240.2 L455.8,239.2 L454.8,238.5 L454.0,238.1 L453.8,238.2 L452.8,237.3 L451.9,236.3 L451.8,236.0 L450.8,237.1 L449.8,238.0 L449.0,237.9 L448.8,238.0 L447.8,237.6 L446.8,237.2 L445.8,238.4 L444.8,240.2 L444.6,240.5 L443.8,241.5 L442.8,242.7 L441.8,243.5 L441.0,244.2 L440.8,244.4 L439.8,245.9 L438.8,247.3 L438.0,247.6 L437.8,246.8 L436.8,246.9 L435.8,247.4 L435.0,248.0 L434.8,248.7 L433.8,248.8 L432.8,248.2 L432.2,247.4 L431.8,247.0 L430.8,247.5 L429.8,247.3 L429.2,247.1 L428.8,246.9 L427.8,245.3 L426.8,244.1 L426.3,244.5 L425.8,244.7 L424.8,245.6 L423.8,247.0 L423.4,247.2 L422.8,247.5 L421.8,248.8 L421.2,250.0 L420.8,250.1 L419.8,250.4 L418.8,251.6 L418.3,252.4 L417.8,251.6 L416.8,250.4 L415.8,250.1 L415.4,250.6 L414.8,249.6 L413.8,247.6 L412.8,246.5 L412.4,246.3 L411.8,246.2 L410.8,247.1 L409.8,248.4 L409.5,248.7 L408.8,250.8 L407.8,254.1 L407.3,254.0 L406.8,253.5 L405.8,251.7 L405.1,252.0 L404.8,252.2 L403.8,252.7 L402.8,253.6 L402.2,253.4 L401.8,252.7 L400.8,250.2 L400.0,248.9 L399.8,249.2 L398.8,249.6 L397.8,249.5 L397.1,249.9 L396.8,250.9 L395.8,249.5 L394.9,247.8 L394.8,247.5 L393.8,246.3 L392.8,245.2 L392.7,245.3 L391.8,243.1 L390.8,240.4 L390.5,239.7 L389.8,240.2 L388.8,240.8 L388.4,240.7 L387.8,241.5 L386.8,243.7 L385.8,245.8 L385.4,246.3 L384.8,247.1 L383.8,248.7 L382.8,250.1 L382.5,250.3 L381.8,250.0 L380.8,249.2 L379.8,248.1 L379.6,247.9 L378.8,247.5 L377.8,246.2 L376.8,244.9 L376.7,245.1 L375.8,245.0 L374.8,244.1 L373.8,242.6 L372.8,241.3 L371.8,240.3 L370.8,240.1 L369.8,240.8 L368.8,242.3 L367.9,243.7 L367.8,243.8 L366.8,246.5 L366.4,247.4 L365.8,248.3 L364.8,249.0 L363.8,249.7 L363.4,250.4 L362.8,251.4 L361.8,253.1 L360.8,254.1 L360.5,253.9 L359.8,252.8 L358.8,249.3 L358.3,248.2 L357.8,248.0 L356.8,246.7 L356.1,246.2 L355.8,246.7 L354.8,249.8 L353.9,252.0 L353.8,252.3 L352.8,251.2 L351.8,250.3 L350.8,249.4 L349.8,248.6 L349.6,248.7 L348.8,251.8 L347.8,258.1 L347.4,259.4 L346.8,257.3 L345.8,251.3 L345.2,249.9 L344.8,250.4 L343.8,251.3 L342.8,251.6 L342.3,251.0 L341.8,250.7 L340.8,250.1 L339.8,249.0 L338.8,248.3 L338.6,248.4 L337.8,248.5 L336.8,248.9 L335.8,248.5 L335.0,247.6 L334.8,247.5 L333.8,246.5 L332.8,245.2 L332.0,245.5 L331.8,245.0 L330.8,245.0 L329.9,246.0 L329.8,246.4 L328.8,248.1 L327.8,250.0 L326.9,250.8 L326.8,250.5 L325.8,249.0 L324.8,247.3 L324.7,247.4 L323.8,249.0 L322.8,250.3 L322.6,250.5 L321.8,251.0 L320.8,251.9 L319.8,252.9 L319.6,253.4 L318.8,253.9 L317.8,254.3 L316.8,254.3 L316.7,254.0 L315.8,255.8 L314.8,257.9 L313.8,258.4 L312.8,258.0 L311.8,256.8 L310.9,255.6 L310.8,255.4 L309.8,257.1 L308.8,258.6 L308.0,258.6 L307.8,258.8 L306.8,258.8 L305.8,258.4 L305.0,257.9 L304.8,257.0 L303.8,255.8 L302.8,256.1 L301.8,256.6 L300.8,256.9 L299.8,257.9 L299.2,259.1 L298.8,259.6 L297.8,259.3 L296.8,259.1 L296.3,259.1 L295.8,259.3 L294.8,259.9 L293.8,260.8 L293.4,261.0 L292.8,259.5 L291.8,255.7 L291.2,255.1 L290.8,255.1 L289.8,256.4 L289.0,257.5 L288.8,257.9 L287.8,256.3 L286.8,255.0 L285.8,253.3 L284.8,251.5 L284.6,251.1 L283.8,251.7 L282.8,253.7 L282.4,254.4 L281.8,253.5 L280.8,252.8 L279.8,252.9 L279.5,253.3 L278.8,253.0 L277.8,251.8 L277.3,251.5 L276.8,252.2 L275.8,252.7 L275.1,252.8 L274.8,252.6 L273.8,252.8 L272.9,253.4 L272.8,253.7 L271.8,253.7 L270.8,254.6 L270.0,255.4 L269.8,256.9 L269.4,261.2 L268.8,262.2 L267.8,263.2 L266.8,263.8 L266.0,263.5 L265.8,263.2 L264.8,263.2 L263.8,262.7 L262.8,262.9 L262.5,263.4 L261.8,263.2 L260.8,262.5 L259.8,262.1 L259.0,261.6 L258.8,261.4 L257.8,263.9 L256.8,266.9 L255.8,268.3 L255.6,268.1 L254.8,268.3 L253.8,268.1 L253.0,268.3 L252.8,269.3 L251.8,270.5 L250.8,271.4 L250.3,271.7 L249.8,271.3 L248.8,269.3 L247.8,267.4 L246.9,267.2 L246.8,267.7 L245.8,267.4 L244.8,267.6 L243.8,268.8 L243.5,269.3 L242.8,269.1 L241.8,268.4 L240.8,267.5 L240.0,266.9 L239.8,266.3 L238.8,266.3 L237.8,267.1 L236.8,267.7 L236.5,267.5 L235.8,267.5 L234.8,268.7 L233.8,269.9 L233.0,269.7 L232.8,268.8 L231.8,268.8 L230.8,269.3 L229.8,269.4 L229.5,269.2 L228.8,270.6 L227.8,273.5 L226.8,276.2 L226.0,277.7 L225.8,277.5 L224.8,275.8 L224.0,275.3 L223.8,275.2 L222.8,275.6 L221.8,275.7 L221.7,275.4 L220.8,275.4 L219.8,273.9 L219.5,273.1 L218.8,271.7 L217.8,270.1 L217.4,269.9 L216.8,270.0 L215.8,271.0 L215.0,271.2 L214.8,270.6 L213.8,271.2 L212.8,271.6 L212.0,271.3 L211.8,271.4 L210.8,269.8 L209.8,267.6 L209.3,266.8 L208.8,267.6 L207.8,270.0 L207.3,271.3 L206.8,272.2 L205.8,275.1 L205.3,276.3 L204.8,276.0 L203.8,274.0 L203.2,272.7 L202.8,271.6 L201.8,269.7 L201.2,269.2 L200.8,270.4 L199.8,276.5 L199.2,278.9 L198.8,278.7 L197.8,276.5 L196.8,274.1 L196.5,273.6 L195.8,271.8 L194.8,270.0 L194.5,269.6 L193.8,269.4 L192.8,271.4 L191.8,273.1 L190.8,272.4 L189.8,271.4 L189.0,270.9 L188.8,270.9 L187.8,273.3 L187.0,274.9 L186.8,274.8 L185.8,272.7 L185.7,272.3 L184.8,271.1 L183.8,270.1 L183.6,269.7 L182.8,268.5 L181.8,267.1 L181.6,266.5 L180.8,267.3 L179.8,268.9 L179.6,268.9 L178.8,268.2 L177.8,267.3 L176.9,266.1 L176.8,265.6 L175.8,263.3 L174.9,262.5 L174.8,262.7 L173.8,263.8 L172.8,265.6 L171.8,269.4 L170.8,272.0 L169.8,272.2 L169.5,272.5 L168.8,270.2 L167.8,266.6 L167.4,266.3 L166.8,268.0 L165.8,273.9 L165.4,274.8 L164.8,274.3 L164.0,273.4 L163.8,273.2 L162.8,270.5 L162.0,268.4 L161.8,268.9 L160.8,270.5 L160.7,271.3 L159.8,272.8 L158.8,273.8 L158.6,273.8 L157.8,272.1 L156.8,270.2 L156.6,270.6 L155.8,270.6 L154.8,270.6 L153.9,270.7 L153.8,270.4 L152.8,271.7 L151.8,273.2 L151.2,274.1 L150.8,273.9 L149.8,271.7 L149.2,270.0 L148.8,268.7 L147.8,265.9 L147.2,265.8 L146.8,266.2 L145.8,270.0 L145.1,271.6 L144.8,271.4 L143.8,267.1 L143.1,264.3 L142.8,263.5 L141.8,261.1 L141.0,259.8 L140.8,259.5 L139.8,261.4 L138.8,263.9 L137.8,265.3 L137.7,265.3 L136.8,264.2 L135.8,261.6 L135.0,259.7 L134.8,259.8 L133.8,261.6 L132.8,262.5 L132.7,261.5 L131.8,262.2 L130.8,263.5 L129.8,264.2 L128.8,265.3 L128.5,266.3 L127.8,267.4 L126.8,268.4 L125.8,269.4 L125.0,270.3 L124.8,270.2 L123.8,271.1 L122.8,272.2 L122.5,272.6 L121.8,274.4 L120.8,277.0 L120.0,277.8 L119.8,277.4 L118.8,271.1 L118.4,269.8 L117.8,271.1 L116.8,275.1 L115.8,278.7 L115.4,278.9 L114.8,277.8 L113.8,272.0Z" fill="#009AF9" fill-opacity="0.5" stroke="none"/>
<path d="M113.8,267.0 L114.8,272.0 L115.4,273.0 L115.8,272.4 L116.8,267.7 L117.8,262.6 L118.4,261.4 L118.8,261.6 L119.8,264.0 L120.0,264.1 L120.8,263.5 L121.8,260.6 L122.4,258.8 L122.8,257.9 L123.8,255.1 L124.8,252.4 L125.8,250.5 L126.8,249.8 L127.8,249.5 L128.8,249.0 L129.3,248.6 L129.8,248.1 L130.8,247.3 L131.8,246.9 L132.8,247.0 L133.8,247.9 L134.8,249.4 L135.0,249.4 L135.8,249.7 L136.8,250.6 L137.8,251.0 L138.4,251.3 L138.8,251.7 L139.8,251.2 L140.8,250.7 L141.0,250.9 L141.8,251.8 L142.8,253.6 L143.1,254.0 L143.8,255.8 L144.8,258.7 L145.1,258.8 L145.8,258.9 L146.8,258.2 L147.8,255.4 L148.5,253.9 L148.8,253.5 L149.8,255.4 L149.9,255.7 L150.8,259.7 L151.8,263.5 L151.9,263.5 L152.8,262.2 L153.4,261.0 L153.8,259.7 L154.8,255.1 L155.3,253.9 L155.8,254.1 L156.6,255.4 L156.8,255.8 L157.8,259.5 L158.6,261.0 L158.8,261.0 L159.8,258.7 L160.7,257.1 L160.8,256.8 L161.8,256.5 L162.0,256.8 L162.8,258.0 L163.8,259.9 L164.0,260.0 L164.8,260.7 L165.4,260.6 L165.8,260.2 L166.8,258.2 L167.4,257.5 L167.8,257.5 L168.8,258.3 L169.5,258.2 L169.8,258.2 L170.8,258.6 L171.5,258.5 L171.8,258.4 L172.8,256.4 L173.8,254.1 L174.2,253.6 L174.8,254.0 L175.8,256.6 L176.2,257.5 L176.8,258.6 L177.6,259.4 L177.8,259.3 L178.8,257.1 L178.9,257.4 L179.8,258.2 L180.3,258.9 L180.8,259.7 L181.6,260.6 L181.8,260.7 L182.8,259.0 L183.6,257.9 L183.8,257.9 L184.8,261.3 L185.7,263.9 L185.8,263.7 L186.8,260.9 L187.7,259.5 L187.8,259.7 L188.8,260.7 L189.0,260.9 L189.8,262.3 L190.4,263.1 L190.8,262.1 L191.8,258.7 L192.8,261.9 L193.8,265.3 L194.8,260.9 L195.8,256.7 L196.8,259.4 L197.8,263.0 L198.8,265.0 L199.8,265.8 L199.9,265.8 L200.8,262.7 L201.8,259.1 L201.9,259.2 L202.8,259.9 L203.8,261.3 L203.9,261.6 L204.8,262.7 L205.3,262.8 L205.8,262.1 L206.8,258.9 L207.3,257.5 L207.8,256.3 L208.8,254.3 L209.0,254.0 L209.8,255.5 L210.7,257.5 L210.8,257.4 L211.8,255.5 L212.8,253.1 L213.4,253.0 L213.8,253.3 L214.8,253.3 L215.0,253.5 L215.8,253.4 L216.8,253.4 L217.0,253.4 L217.8,253.9 L218.8,253.9 L219.8,253.8 L220.8,254.3 L221.8,254.7 L222.6,254.6 L222.8,254.3 L223.8,253.8 L224.8,253.0 L225.8,252.1 L226.8,251.3 L227.8,251.3 L228.8,251.9 L229.8,252.3 L230.8,252.3 L231.0,252.4 L231.8,251.9 L232.8,250.5 L233.8,249.2 L234.7,248.8 L234.8,248.9 L235.8,250.2 L236.8,251.9 L237.0,252.2 L237.8,251.9 L238.8,251.1 L239.8,250.4 L240.0,250.3 L240.8,250.5 L241.8,250.9 L242.8,250.9 L243.5,250.6 L243.8,250.8 L244.8,251.9 L245.8,252.8 L246.8,253.2 L246.9,253.4 L247.8,253.2 L248.8,252.2 L249.8,250.8 L250.8,249.7 L251.8,249.2 L252.0,249.2 L252.8,249.0 L253.8,248.7 L254.8,248.3 L255.0,248.4 L255.8,247.8 L256.8,246.5 L257.8,245.6 L258.0,245.6 L258.8,245.2 L259.8,245.1 L260.8,245.1 L261.8,245.5 L262.8,246.5 L263.5,247.2 L263.8,247.5 L264.8,248.6 L265.8,249.2 L266.0,249.1 L266.8,248.3 L267.8,245.8 L268.8,243.5 L269.4,243.2 L269.8,243.9 L270.0,244.4 L270.8,243.1 L271.8,240.6 L272.2,240.0 L272.8,239.7 L273.8,239.1 L274.4,238.6 L274.8,238.0 L275.8,236.4 L276.6,235.5 L276.8,235.4 L277.8,235.1 L278.8,234.8 L279.5,234.8 L279.8,235.0 L280.8,235.6 L281.8,236.6 L282.4,237.1 L282.8,237.5 L283.8,238.6 L284.6,239.1 L284.8,239.0 L285.8,238.3 L286.8,237.9 L287.8,240.3 L288.2,240.9 L288.8,240.2 L289.8,238.6 L290.4,238.5 L290.8,238.9 L291.8,240.6 L292.6,241.9 L292.8,242.1 L293.8,241.3 L294.8,240.7 L295.5,240.8 L295.8,240.8 L296.8,240.9 L297.7,240.7 L297.8,240.5 L298.8,241.3 L299.8,242.2 L299.9,242.3 L300.8,241.6 L301.8,240.4 L302.8,239.2 L303.8,239.0 L304.8,239.4 L305.0,239.4 L305.8,240.0 L306.5,240.7 L306.8,240.2 L307.8,239.6 L308.7,239.3 L308.8,239.2 L309.8,238.8 L310.8,239.2 L310.9,239.2 L311.8,239.0 L312.8,239.4 L313.0,240.0 L313.8,240.1 L314.8,238.6 L315.3,237.8 L315.8,237.2 L316.7,236.5 L316.8,236.1 L317.8,237.6 L318.8,239.3 L318.9,239.1 L319.8,238.6 L320.4,238.5 L320.8,238.2 L321.8,235.9 L322.6,234.6 L322.8,234.7 L323.8,237.2 L324.0,237.5 L324.8,238.4 L325.8,239.5 L326.2,240.1 L326.8,239.3 L327.8,237.2 L328.4,236.7 L328.8,237.0 L329.8,237.4 L330.6,237.7 L330.8,237.5 L331.8,237.0 L332.8,236.8 L333.8,237.8 L334.8,239.1 L335.0,239.0 L335.8,239.2 L336.8,239.8 L337.8,240.3 L337.9,240.5 L338.8,240.8 L339.8,240.9 L340.8,240.8 L341.8,240.3 L342.8,239.4 L343.0,239.5 L343.8,239.1 L344.8,238.2 L345.2,237.9 L345.8,238.8 L346.6,241.0 L346.8,241.3 L347.8,243.5 L348.1,243.7 L348.8,240.8 L349.6,236.9 L349.8,236.7 L350.8,236.5 L351.0,237.0 L351.8,237.9 L352.8,240.4 L353.2,240.8 L353.8,240.7 L354.8,239.3 L355.4,238.4 L355.8,237.7 L356.8,236.4 L356.9,237.0 L357.8,239.1 L358.8,241.6 L359.0,241.1 L359.8,240.7 L360.8,239.3 L361.2,238.8 L361.8,237.9 L362.8,236.5 L363.8,235.3 L364.2,234.6 L364.8,233.1 L365.8,231.1 L366.8,229.7 L367.2,229.9 L367.8,229.9 L368.8,229.6 L369.4,229.5 L369.8,229.6 L370.8,231.1 L371.6,232.0 L371.8,232.3 L372.8,230.9 L373.8,229.9 L374.8,232.2 L375.8,235.2 L375.9,235.2 L376.8,236.2 L377.4,236.6 L377.8,236.1 L378.8,234.6 L379.6,233.9 L379.8,234.2 L380.8,234.7 L381.8,235.1 L382.8,234.3 L383.2,233.7 L383.8,232.7 L384.8,231.0 L385.4,230.2 L385.8,229.9 L386.8,229.0 L387.6,228.1 L387.8,227.7 L388.8,226.9 L389.8,226.6 L390.8,227.3 L391.8,227.9 L392.0,227.5 L392.8,227.0 L393.8,225.9 L394.2,225.8 L394.8,226.9 L395.7,229.4 L395.8,229.5 L396.8,231.5 L397.8,232.9 L398.8,232.1 L399.3,231.2 L399.8,231.3 L400.8,233.4 L401.5,234.5 L401.8,234.4 L402.8,233.6 L403.7,233.2 L403.8,233.2 L404.8,233.3 L405.8,233.4 L405.9,233.5 L406.8,233.7 L407.8,233.3 L408.0,233.2 L408.8,232.3 L409.8,230.9 L410.3,230.4 L410.8,230.7 L411.8,231.1 L412.4,231.1 L412.8,230.7 L413.8,228.8 L414.6,227.5 L414.8,227.4 L415.8,228.3 L416.8,229.5 L417.8,230.4 L418.8,230.8 L419.0,231.0 L419.8,232.0 L420.5,232.5 L420.8,231.8 L421.8,230.2 L422.7,229.2 L422.8,229.1 L423.8,228.4 L424.8,227.8 L424.9,227.8 L425.8,226.6 L426.8,225.1 L427.0,225.2 L427.8,225.8 L428.8,225.9 L429.8,225.6 L430.0,225.6 L430.8,225.9 L431.8,226.4 L432.2,226.7 L432.8,227.7 L433.8,229.4 L434.3,230.0 L434.8,230.6 L435.8,231.8 L436.5,232.2 L436.8,232.3 L437.8,231.6 L438.7,230.9 L438.8,230.8 L439.8,229.6 L440.8,228.4 L441.0,228.3 L441.8,228.5 L442.8,228.6 L443.1,228.8 L443.8,228.5 L444.8,226.3 L445.3,225.3 L445.8,224.9 L446.8,224.5 L447.8,225.2 L448.8,226.6 L449.0,227.1 L449.8,226.0 L450.4,224.9 L450.8,224.5 L451.8,223.4 L452.6,222.9 L452.8,222.9 L453.8,225.5 L454.8,228.5 L455.8,230.1 L456.2,230.2 L456.8,229.5 L457.7,228.5 L457.8,229.2 L458.8,231.1 L459.8,233.2 L460.0,233.5 L460.8,232.9 L461.8,231.3 L462.2,230.7 L462.8,229.6 L463.8,227.5 L464.4,226.1 L464.8,225.3 L465.8,223.4 L466.6,222.1 L466.8,221.6 L467.8,224.4 L468.0,225.1 L468.8,226.5 L469.8,227.6 L470.2,228.0 L470.8,228.9 L471.8,230.8 L472.4,231.9 L472.8,231.8 L473.8,229.8 L474.6,228.7 L474.8,228.8 L475.8,229.4 L476.8,229.9 L477.8,230.0 L478.8,230.1 L479.0,230.0 L479.8,229.0 L480.8,227.5 L481.2,227.3 L481.8,227.9 L482.8,229.8 L483.8,231.1 L484.0,230.9 L484.8,229.6 L485.8,226.9 L486.3,226.2 L486.8,225.6 L487.8,226.1 L488.5,226.7 L488.8,226.8 L489.8,225.0 L490.7,223.7 L490.8,223.7 L491.8,223.9 L492.8,224.0 L493.8,223.0 L494.3,222.6 L494.8,222.9 L495.8,223.9 L496.5,224.9 L496.8,225.4 L497.8,226.3 L498.7,226.3 L498.8,226.1 L499.8,225.1 L500.8,223.8 L500.9,223.8 L501.8,223.5 L502.8,223.2 L503.0,223.3 L503.8,223.5 L504.5,223.6 L504.8,223.5 L505.8,221.8 L506.7,220.9 L506.8,221.2 L507.8,222.4 L508.2,222.6 L508.8,222.3 L509.8,221.6 L510.4,221.3 L510.8,221.2 L511.8,220.8 L512.6,220.4 L512.8,220.6 L513.8,220.2 L514.7,219.3 L514.8,218.8 L515.8,216.5 L516.8,214.8 L517.7,214.6 L517.8,214.4 L518.8,215.7 L519.8,218.1 L519.9,218.3 L520.8,219.8 L521.8,221.5 L522.0,221.8 L522.8,222.7 L523.0,222.6 L523.8,221.9 L524.8,219.6 L525.0,219.3 L525.8,218.8 L526.4,218.4 L526.8,217.8 L527.8,217.7 L528.6,217.9 L528.8,217.4 L529.8,218.1 L530.8,219.5 L531.8,220.1 L532.3,220.0 L532.8,219.5 L533.7,218.5 L533.8,218.4 L534.8,217.9 L535.8,217.6 L535.9,217.5 L536.8,218.1 L537.8,219.2 L538.1,219.5 L538.8,217.9 L539.6,215.0 L539.8,214.3 L540.8,211.2 L541.0,211.3 L541.8,211.7 L542.8,212.7 L543.2,213.3 L543.8,213.9 L544.8,213.9 L545.4,213.4 L545.8,213.1 L546.8,213.6 L547.6,213.5 L547.8,213.0 L548.8,211.6 L549.8,210.3 L550.8,211.5 L551.8,212.8 L552.0,212.9 L552.8,212.9 L553.8,212.8 L554.2,212.6 L554.8,212.5 L555.8,212.6 L556.4,212.7 L556.8,212.4 L557.8,213.6 L558.5,214.4 L558.8,214.8 L559.8,215.7 L560.0,215.6 L560.7,212.7 L560.8,213.0 L561.8,212.3 L562.8,212.0 L563.0,211.7 L563.8,212.2 L564.8,214.0 L565.0,214.2 L565.8,215.7 L566.8,216.7 L567.0,216.3 L567.8,215.9 L568.8,215.1 L569.8,214.1 L570.0,213.8 L570.8,213.2 L571.8,212.7 L572.8,212.5 L573.8,211.9 L574.0,211.5 L574.8,210.7 L575.8,209.8 L576.8,209.3 L577.8,209.3 L578.2,209.2 L578.8,208.7 L579.8,208.7 L580.8,209.3 L581.0,210.0 L581.8,209.5 L582.8,207.7 L583.8,206.1 L584.0,206.0 L584.8,205.6 L585.8,204.8 L586.8,204.2 L587.0,204.0 L587.8,203.1 L588.8,202.5 L589.8,202.1 L590.8,201.6 L591.8,201.3 L592.8,201.1 L593.8,200.6 L594.0,200.2 L594.8,199.4 L595.8,198.7 L596.8,197.9 L597.8,197.4 L598.4,197.4 L598.8,196.8 L599.8,195.6 L600.8,195.3 L601.8,195.6 L602.0,195.6 L602.8,195.4 L603.8,195.7 L604.8,196.3 L605.8,196.7 L606.0,196.7 L606.8,196.7 L607.8,196.7 L608.8,196.3 L609.8,196.0 L610.0,196.1 L610.8,196.2 L611.8,196.2 L612.8,196.6 L613.5,196.9 L613.8,196.8 L614.8,195.5 L615.8,193.8 L616.8,192.5 L617.0,192.9 L617.8,192.3 L618.8,191.3 L619.8,190.6 L620.0,190.1 L620.8,189.1 L621.8,188.2 L622.3,187.8 L622.8,187.9 L623.8,189.2 L624.8,190.2 L625.0,190.3 L625.8,190.2 L626.8,189.3 L627.8,188.4 L628.6,188.2 L628.8,188.1 L629.8,187.4 L630.8,186.9 L631.8,186.0 L632.0,185.7 L632.8,186.6 L633.8,186.9 L634.5,186.7 L634.8,186.4 L635.8,184.8 L636.1,184.3 L636.8,181.5 L637.5,178.5 L637.8,177.7 L638.6,176.3 L638.8,176.0 L639.8,175.7 L640.8,175.5 L641.0,175.4 L641.8,174.5 L642.8,173.0 L643.8,171.5 L644.0,171.2 L644.8,170.5 L645.8,169.7 L646.5,169.5 L646.8,169.4 L647.8,168.1 L648.7,166.8 L648.8,166.6 L649.8,165.3 L650.8,164.1 L651.0,163.9 L651.8,163.2 L652.8,162.5 L653.0,162.3 L653.8,161.4 L654.8,160.5 L655.0,160.3 L655.8,158.8 L656.8,156.7 L657.5,155.2 L657.8,154.4 L658.8,151.7 L659.8,149.2 L660.0,148.9 L660.8,147.1 L661.8,144.7 L662.5,142.7 L662.8,141.7 L663.8,137.5 L664.0,136.5 L664.8,131.9 L665.0,130.3 L665.8,118.0 L666.3,103.1" fill="none" stroke="#009AF9" stroke-width="2" stroke-linejoin="round" stroke-linecap="butt"/>
<path d="M113.7,273.0 L114.7,276.9 L114.9,276.9 L115.7,268.6 L116.0,264.0 L116.7,252.2 L117.0,247.0 L117.7,236.0 L118.7,211.4 L119.4,194.0 L119.7,187.9 L120.7,169.6 L121.0,165.0 L121.7,156.1 L122.4,147.8 L122.7,143.6 L123.5,133.0 L123.7,131.1 L124.2,128.3 L124.7,129.7 L125.0,131.1 L125.7,136.0 L125.8,136.2 L126.7,134.4 L127.0,134.1 L127.7,138.0 L128.2,143.0 L128.7,148.6 L129.7,162.9 L130.5,173.0 L130.7,175.0 L131.7,183.4 L132.7,190.7 L133.7,198.4 L134.0,201.0 L134.7,209.1 L135.7,221.1 L136.3,223.5 L136.7,223.0 L137.7,215.6 L138.6,208.0 L138.7,207.4 L139.7,201.7 L140.7,196.2 L141.7,189.5 L142.0,187.0 L142.6,179.7 L142.7,178.2 L143.7,161.3 L143.8,160.7 L144.7,158.0 L144.9,157.9 L145.7,162.9 L146.0,164.0 L146.7,161.7 L147.7,157.5 L147.8,157.5 L148.7,159.8 L149.5,164.0 L149.7,165.1 L150.7,171.0 L151.3,174.4 L151.7,176.7 L152.7,181.9 L153.0,182.8 L153.7,183.8 L154.7,184.8 L155.7,185.4 L156.5,185.7 L156.7,186.0 L157.7,187.5 L158.7,188.3 L159.0,188.5 L159.7,187.7 L160.7,183.9 L161.7,179.8 L162.7,176.2 L163.7,172.9 L164.3,171.4 L164.7,170.2 L165.7,167.3 L166.7,164.7 L167.7,163.0 L167.8,163.2 L168.7,164.4 L169.7,166.1 L170.4,167.3 L170.7,168.1 L171.7,171.9 L172.7,176.1 L173.0,177.0 L173.7,179.2 L174.7,182.8 L175.7,185.5 L176.5,186.7 L176.7,187.1 L177.7,186.0 L178.7,184.2 L179.0,183.4 L179.7,182.7 L180.7,181.2 L181.7,179.2 L182.5,177.2 L182.7,176.3 L183.7,174.5 L184.7,173.0 L185.7,171.3 L186.0,170.7 L186.7,169.3 L187.7,167.5 L188.7,166.3 L189.5,166.2 L189.7,165.7 L190.7,167.0 L191.7,170.0 L192.0,171.0 L192.7,173.1 L193.7,176.5 L194.7,179.7 L195.7,182.5 L196.7,185.1 L197.7,187.0 L198.2,187.8 L198.7,186.8 L199.7,183.9 L200.7,182.0 L200.8,181.6 L201.7,180.6 L202.7,180.1 L203.7,179.7 L204.7,179.9 L205.0,180.3 L205.7,179.7 L206.7,179.8 L207.7,181.1 L208.6,182.3 L208.7,182.7 L209.7,182.3 L210.7,181.4 L211.7,180.2 L212.7,179.2 L213.0,179.5 L213.7,178.4 L214.7,175.0 L215.7,171.2 L216.4,169.0 L216.7,168.5 L217.7,167.2 L218.7,166.1 L219.7,164.8 L219.9,164.5 L220.7,162.5 L221.7,159.8 L222.7,157.4 L223.7,155.8 L224.2,155.7 L224.7,157.1 L225.0,157.6 L225.7,156.4 L226.7,153.5 L227.6,151.9 L227.7,152.8 L228.7,154.2 L229.7,156.4 L230.2,157.5 L230.7,158.7 L231.7,161.3 L232.7,163.9 L232.8,164.5 L233.7,166.9 L234.7,169.1 L235.4,169.4 L235.7,168.8 L236.7,163.2 L237.5,159.1 L237.7,158.8 L238.7,157.0 L239.7,155.9 L239.8,155.5 L240.7,155.9 L241.7,157.2 L242.4,158.0 L242.7,158.0 L243.7,158.2 L244.7,158.3 L245.7,158.6 L246.7,158.9 L247.7,158.1 L248.7,158.6 L249.7,160.2 L250.2,161.0 L250.7,161.7 L251.7,163.0 L252.7,164.6 L253.6,166.2 L253.7,166.3 L254.7,168.7 L255.7,171.6 L256.3,172.9 L256.7,173.7 L257.7,176.1 L258.7,178.4 L258.9,179.2 L259.7,180.8 L260.7,182.1 L261.5,182.2 L261.7,182.0 L262.7,182.0 L263.7,181.3 L264.7,180.6 L264.9,180.3 L265.7,179.5 L266.7,177.6 L267.7,175.1 L268.4,173.2 L268.7,172.2 L269.7,168.1 L270.7,163.8 L271.0,162.7 L271.7,160.4 L272.7,156.7 L273.7,153.9 L274.5,153.5 L274.7,153.9 L275.7,154.2 L276.7,156.0 L277.1,157.2 L277.7,159.5 L278.7,164.3 L279.7,167.8 L280.7,169.7 L281.7,171.2 L282.3,171.7 L282.7,171.6 L283.7,170.4 L284.7,169.7 L284.9,170.2 L285.7,170.1 L286.7,169.2 L287.5,168.7 L287.7,168.7 L288.7,166.6 L289.7,164.0 L290.7,162.0 L291.0,161.3 L291.7,160.2 L292.7,159.4 L293.6,159.5 L293.7,160.0 L294.7,160.6 L295.7,161.4 L296.2,161.7 L296.7,162.4 L297.7,164.3 L298.7,166.2 L298.8,166.1 L299.7,168.0 L300.7,169.9 L301.4,170.6 L301.7,171.0 L302.7,170.2 L303.7,168.3 L304.7,167.4 L304.9,167.9 L305.7,167.2 L306.7,166.3 L307.7,165.2 L308.3,164.3 L308.7,163.7 L309.7,162.0 L310.7,160.1 L311.0,159.2 L311.7,157.1 L312.7,154.0 L313.5,151.9 L313.7,151.8 L314.7,150.2 L315.0,149.6 L315.7,147.3 L316.5,145.7 L316.7,145.2 L317.7,145.3 L318.7,146.4 L319.7,147.5 L320.0,147.7 L320.7,147.5 L321.7,147.7 L322.7,148.8 L323.7,149.3 L324.0,148.9 L324.7,149.0 L325.7,150.3 L326.7,152.0 L327.0,152.2 L327.7,153.0 L328.7,154.9 L329.7,156.1 L330.4,155.6 L330.7,155.3 L331.7,153.8 L332.7,150.7 L333.7,147.3 L334.0,146.3 L334.7,143.7 L335.7,139.4 L336.7,136.0 L337.0,135.2 L337.7,133.7 L338.7,131.8 L339.7,131.3 L340.4,131.5 L340.7,130.5 L341.7,130.0 L342.7,130.5 L343.7,131.1 L344.0,131.2 L344.7,132.0 L345.7,133.5 L346.7,133.9 L347.7,133.7 L348.0,134.2 L348.7,132.3 L349.7,126.7 L350.0,125.2 L350.7,121.6 L351.7,116.6 L352.0,115.1 L352.7,111.1 L353.7,106.0 L354.0,105.0 L354.7,103.2 L355.7,101.7 L356.7,100.2 L357.7,98.2 L358.7,96.0 L359.0,95.0 L359.7,92.7 L360.7,88.7 L361.5,85.0 L361.7,84.0 L362.7,78.5 L363.7,72.1 L364.0,70.0 L364.7,64.4 L365.7,55.0 L366.0,52.0 L366.7,44.8 L367.5,35.0 L367.7,31.4 L368.6,15.0 L368.7,17.2 L369.1,51.5 L369.1,51.5 L368.7,67.9 L368.3,80.0 L367.7,90.9 L367.0,100.0 L366.7,103.7 L365.7,114.0 L365.5,115.1 L364.7,117.9 L363.7,119.9 L363.0,120.5 L362.7,121.0 L361.7,122.3 L360.7,122.6 L360.5,122.3 L359.7,123.9 L358.7,126.6 L357.7,129.8 L357.0,131.9 L356.7,132.6 L355.7,136.0 L354.7,139.6 L354.0,141.9 L353.7,142.7 L352.7,146.7 L351.7,150.6 L350.7,153.6 L350.5,153.9 L349.7,155.5 L348.7,157.2 L347.7,159.1 L347.0,160.5 L346.7,160.9 L345.7,162.7 L344.7,165.1 L343.7,166.8 L343.0,166.8 L342.7,166.7 L341.7,165.4 L340.7,163.4 L340.0,162.0 L339.7,161.5 L338.7,159.5 L337.7,157.6 L336.7,157.0 L336.6,157.2 L335.7,159.0 L334.7,164.9 L333.7,171.0 L333.5,171.9 L332.7,176.0 L331.7,181.1 L330.7,184.0 L330.4,183.5 L329.7,183.4 L328.7,183.1 L327.7,182.7 L327.0,182.6 L326.7,183.2 L325.7,183.5 L324.7,183.6 L324.0,183.7 L323.7,183.4 L322.7,183.7 L321.7,185.1 L320.7,186.8 L320.0,188.0 L319.7,188.5 L318.7,191.0 L317.7,193.8 L316.7,195.3 L316.5,195.1 L315.7,190.8 L315.0,187.2 L314.7,187.1 L313.7,188.2 L312.7,189.7 L311.7,190.0 L310.7,190.1 L310.0,190.2 L309.7,190.3 L308.7,192.2 L307.7,194.0 L307.5,193.6 L306.7,192.3 L305.7,189.5 L304.9,188.1 L304.7,188.7 L303.7,189.8 L302.7,190.8 L301.7,191.2 L301.4,191.3 L300.7,192.9 L299.7,194.0 L298.7,194.5 L297.9,195.6 L297.7,196.0 L296.7,196.7 L295.7,197.6 L294.7,199.0 L294.4,200.0 L293.7,201.8 L292.7,204.6 L291.8,204.8 L291.7,204.8 L290.7,204.2 L289.7,201.9 L289.2,200.8 L288.7,199.6 L287.7,197.6 L286.7,195.8 L286.6,195.4 L285.7,194.3 L284.7,193.1 L284.0,192.0 L283.7,192.1 L282.7,192.2 L281.7,192.2 L280.7,192.4 L280.6,192.6 L279.7,193.1 L278.7,194.5 L278.0,195.8 L277.7,196.6 L276.7,199.4 L275.7,202.8 L275.3,204.3 L274.7,206.7 L273.7,210.9 L272.7,213.9 L271.7,215.5 L270.7,217.0 L270.1,217.8 L269.7,218.4 L268.7,218.2 L267.7,218.1 L266.7,218.6 L265.7,218.0 L264.7,216.1 L263.7,214.1 L263.2,212.6 L262.7,211.6 L261.7,210.2 L260.7,208.6 L260.6,208.6 L259.7,208.4 L258.7,207.7 L258.0,207.0 L257.7,206.2 L256.7,206.6 L255.7,208.2 L254.7,209.7 L254.5,210.2 L253.7,211.7 L252.7,213.6 L252.0,214.9 L251.7,215.6 L250.7,217.8 L249.7,218.9 L249.3,219.0 L248.7,219.1 L247.7,218.4 L246.7,216.9 L245.7,214.2 L244.7,210.9 L244.0,208.7 L243.7,207.8 L242.7,204.8 L241.7,202.5 L241.5,202.5 L240.7,201.9 L239.7,201.3 L238.7,201.3 L238.0,201.0 L237.7,200.8 L236.7,201.1 L235.7,201.9 L234.7,203.6 L234.5,204.2 L233.7,206.8 L232.7,212.6 L232.0,216.4 L231.7,217.9 L230.7,223.4 L229.7,227.4 L229.3,227.5 L228.7,226.8 L227.7,223.8 L227.6,223.4 L226.7,219.9 L225.7,215.6 L225.0,212.8 L224.7,211.7 L224.2,210.0 L223.7,208.2 L222.7,204.0 L221.7,201.5 L221.6,201.8 L220.7,201.6 L219.7,201.0 L218.7,200.6 L218.0,200.5 L217.7,200.8 L216.7,203.3 L215.7,207.2 L214.7,210.7 L213.7,214.0 L212.7,217.2 L211.7,219.0 L211.2,219.6 L210.7,219.9 L209.7,219.8 L208.7,219.5 L207.7,219.0 L206.8,218.4 L206.7,218.4 L205.7,217.7 L204.7,216.3 L203.7,215.0 L202.7,213.8 L202.5,213.9 L201.7,213.9 L200.7,212.8 L199.7,211.6 L199.0,211.3 L198.7,211.3 L197.7,215.1 L196.7,220.1 L196.4,221.1 L195.7,223.5 L194.7,226.8 L193.8,228.3 L193.7,228.7 L192.7,227.8 L192.0,226.3 L191.7,225.9 L190.7,223.6 L189.7,220.3 L188.7,217.1 L188.6,216.6 L187.7,214.4 L186.7,212.1 L185.7,210.8 L185.0,210.5 L184.7,210.2 L183.7,211.7 L182.7,213.4 L182.5,213.4 L181.7,214.8 L180.7,216.9 L179.7,218.3 L179.0,218.1 L178.7,217.6 L177.7,218.2 L176.7,218.5 L175.7,217.8 L174.7,217.7 L173.7,217.8 L172.7,217.9 L171.7,218.5 L171.3,218.3 L170.7,217.6 L169.7,215.0 L168.7,212.2 L168.6,211.6 L167.7,209.7 L166.7,208.2 L166.0,207.3 L165.7,207.2 L164.7,205.3 L163.7,203.8 L163.4,203.9 L162.7,204.3 L161.7,205.4 L160.7,206.6 L159.7,208.3 L159.0,209.9 L158.7,210.7 L157.7,214.5 L156.7,218.1 L156.5,219.0 L155.7,220.5 L154.7,221.6 L153.7,222.8 L153.0,223.3 L152.7,223.0 L151.7,223.8 L150.7,224.7 L150.4,224.3 L149.7,225.2 L148.7,227.3 L147.8,228.6 L147.7,228.9 L146.7,226.0 L145.7,221.7 L145.2,219.8 L144.7,218.3 L143.7,215.9 L142.7,211.6 L142.6,211.0 L142.0,198.8 L141.7,199.1 L140.7,202.4 L139.7,208.4 L138.7,215.3 L138.6,216.0 L137.7,223.4 L136.9,232.0 L136.7,235.0 L135.9,246.3 L135.7,245.5 L134.7,246.1 L134.0,246.3 L133.7,245.7 L132.7,243.9 L131.7,241.8 L131.6,241.7 L130.7,237.0 L129.7,227.7 L129.2,222.5 L128.7,216.3 L127.7,200.5 L127.0,190.0 L126.7,185.8 L125.7,170.4 L124.7,158.9 L124.2,157.4 L123.7,158.0 L122.7,162.8 L121.7,170.0 L120.7,179.9 L119.7,194.1 L119.4,199.0 L118.7,215.1 L117.7,241.0 L117.0,254.0 L116.7,259.7 L116.0,272.0 L115.7,276.6 L114.9,285.1 L114.7,284.9 L113.7,276.0Z" fill="#E26F46" fill-opacity="0.5" stroke="none"/>
<path d="M113.7,274.6 L114.7,280.9 L114.9,281.0 L115.7,272.6 L116.0,268.0 L116.7,255.6 L117.0,250.0 L117.7,238.0 L118.7,212.6 L119.4,196.4 L119.7,191.4 L120.7,177.0 L121.7,166.3 L122.7,157.5 L123.7,151.1 L124.2,150.2 L124.7,150.8 L125.7,154.6 L126.7,160.0 L127.0,161.6 L127.7,166.2 L128.7,174.4 L129.7,183.1 L130.5,189.5 L130.7,190.9 L131.7,197.7 L132.7,204.2 L133.7,210.7 L134.0,212.7 L134.7,218.6 L135.7,227.0 L136.3,228.8 L136.7,227.8 L137.7,218.8 L138.6,211.9 L138.7,211.7 L139.7,210.1 L140.0,209.2 L140.7,204.8 L141.7,197.0 L142.7,191.6 L143.7,188.5 L143.8,188.0 L144.7,188.0 L145.2,188.4 L145.7,190.4 L146.6,194.8 L146.7,194.7 L147.7,190.6 L147.8,190.7 L148.7,192.0 L149.5,193.7 L149.7,194.2 L150.7,196.9 L151.7,199.8 L152.2,200.8 L152.7,201.4 L153.7,202.6 L154.7,203.1 L154.8,203.3 L155.7,203.0 L156.5,202.3 L156.7,202.1 L157.7,203.4 L158.2,203.5 L158.7,202.9 L159.7,199.4 L160.7,195.5 L160.8,195.5 L161.7,193.4 L162.7,191.0 L163.7,189.4 L164.3,188.6 L164.7,188.1 L165.7,187.3 L166.7,186.8 L166.9,186.8 L167.7,187.2 L168.7,189.2 L169.5,191.0 L169.7,191.3 L170.7,193.6 L171.7,196.0 L172.1,197.0 L172.7,198.7 L173.7,201.7 L174.7,203.2 L175.7,203.6 L176.7,203.8 L177.3,203.6 L177.7,203.5 L178.7,202.7 L179.7,201.0 L180.0,200.7 L180.7,199.4 L181.7,196.6 L182.5,194.4 L182.7,193.9 L183.7,191.4 L184.3,190.7 L184.7,190.7 L185.7,190.8 L186.7,191.2 L187.7,191.0 L188.7,192.4 L189.5,194.4 L189.7,194.8 L190.7,196.6 L191.7,198.4 L192.0,198.8 L192.7,199.6 L193.7,200.8 L194.7,201.5 L195.6,201.6 L195.7,201.8 L196.7,201.7 L197.7,200.7 L198.7,199.1 L199.0,198.1 L199.7,197.1 L200.7,196.5 L201.7,196.2 L202.5,196.1 L202.7,196.1 L203.7,196.0 L204.7,196.0 L205.0,196.2 L205.7,197.1 L206.7,198.7 L207.7,199.6 L208.7,199.7 L209.7,199.9 L210.7,200.0 L211.2,200.1 L211.7,200.1 L212.7,197.3 L213.7,194.1 L213.8,193.8 L214.7,191.5 L215.7,189.1 L216.7,187.1 L217.3,185.8 L217.7,185.0 L218.7,183.4 L219.7,181.8 L220.7,181.5 L221.7,182.0 L222.7,182.6 L223.3,183.0 L223.7,183.3 L224.7,184.8 L225.0,185.3 L225.7,186.1 L226.7,186.9 L227.7,187.8 L228.5,188.8 L228.7,189.5 L229.7,191.0 L230.7,191.8 L231.0,191.9 L231.7,191.3 L232.7,189.2 L233.7,187.1 L234.7,185.5 L235.7,183.6 L236.3,182.4 L236.7,181.8 L237.7,179.9 L238.7,178.3 L238.9,177.6 L239.7,178.0 L240.7,179.2 L241.5,180.3 L241.7,180.6 L242.7,182.1 L243.7,183.8 L244.0,184.3 L244.7,185.4 L245.7,187.0 L246.7,187.9 L247.7,188.3 L248.7,188.3 L249.7,188.2 L250.2,188.1 L250.7,187.7 L251.7,187.2 L252.7,187.1 L252.8,187.2 L253.7,187.6 L254.7,188.6 L255.4,189.1 L255.7,189.4 L256.7,190.7 L257.7,191.9 L258.0,192.2 L258.7,193.0 L259.7,194.4 L260.6,195.8 L260.7,196.1 L261.7,197.6 L262.7,198.4 L263.2,198.5 L263.7,199.4 L264.7,200.2 L265.7,200.5 L265.8,200.5 L266.7,199.6 L267.7,197.9 L268.4,196.6 L268.7,195.8 L269.7,193.5 L270.7,191.1 L271.0,190.4 L271.7,188.5 L272.7,185.7 L273.6,183.3 L273.7,183.1 L274.7,180.1 L275.7,177.6 L276.2,177.4 L276.7,177.6 L277.7,177.8 L278.7,178.3 L278.8,178.3 L279.7,179.6 L280.7,181.2 L281.4,182.0 L281.7,182.0 L282.7,181.4 L283.7,180.6 L284.0,180.4 L284.7,181.1 L285.7,182.5 L286.6,183.3 L286.7,183.6 L287.7,183.8 L288.7,183.6 L289.7,183.4 L290.1,183.5 L290.7,184.0 L291.7,184.2 L291.8,183.8 L292.7,181.6 L293.6,180.3 L293.7,180.6 L294.7,180.6 L295.7,181.2 L296.2,181.4 L296.7,180.9 L297.7,179.1 L298.7,177.8 L298.8,178.1 L299.7,178.8 L300.7,180.0 L301.4,180.4 L301.7,180.2 L302.7,179.2 L303.7,178.3 L304.0,177.9 L304.7,178.1 L305.7,179.2 L306.6,179.6 L306.7,179.0 L307.7,177.5 L308.3,176.5 L308.7,175.4 L309.7,172.1 L310.0,171.6 L310.7,172.0 L311.7,172.8 L312.7,173.3 L313.7,171.3 L314.7,168.7 L315.0,168.7 L315.7,168.9 L316.7,169.5 L317.0,169.5 L317.7,168.7 L318.7,167.5 L319.7,166.7 L320.0,167.1 L320.7,167.3 L321.7,166.8 L322.7,166.0 L323.7,165.8 L324.1,166.0 L324.7,166.4 L325.7,167.2 L326.7,167.9 L327.0,167.8 L327.7,167.7 L328.7,168.3 L329.7,168.9 L330.4,169.0 L330.7,168.8 L331.7,166.7 L332.7,163.1 L333.0,162.0 L333.7,158.8 L334.7,153.3 L335.5,150.1 L335.7,149.5 L336.7,146.9 L337.7,145.3 L337.9,145.0 L338.7,145.2 L339.7,145.5 L340.7,145.7 L341.0,145.7 L341.7,146.3 L342.7,147.1 L343.7,147.7 L344.0,147.9 L344.7,147.3 L345.7,146.5 L346.7,146.7 L347.7,145.1 L348.7,142.0 L349.0,141.1 L349.7,138.8 L350.7,134.8 L351.7,131.0 L352.0,129.9 L352.7,127.8 L353.7,124.9 L354.0,123.9 L354.7,121.2 L355.7,116.6 L356.7,112.7 L357.7,110.0 L358.7,107.8 L359.0,107.1 L359.7,105.5 L360.7,103.5 L361.0,103.0 L361.7,101.9 L362.7,100.6 L363.0,100.1 L363.7,98.7 L364.7,96.2 L365.5,93.9 L365.7,93.3 L366.7,89.3 L367.3,85.4 L367.7,80.7 L368.3,70.0 L368.7,61.5 L369.1,51.5" fill="none" stroke="#E26F46" stroke-width="2" stroke-linejoin="round" stroke-linecap="butt"/>
<path d="M113.8,300.0 L114.8,306.0 L115.0,306.1 L115.8,299.4 L116.5,290.0 L116.8,286.1 L117.8,273.6 L118.0,273.1 L118.8,278.6 L119.7,290.0 L119.8,291.2 L120.8,306.7 L121.8,316.2 L122.8,311.7 L123.8,302.8 L124.8,295.5 L125.3,294.1 L125.8,295.1 L126.8,299.8 L127.8,306.0 L128.4,309.1 L128.8,310.9 L129.8,315.1 L130.2,315.6 L130.8,314.4 L131.8,309.7 L132.2,308.8 L132.8,309.4 L133.8,312.3 L134.8,315.3 L135.4,316.0 L135.8,315.4 L136.8,315.4 L137.8,316.4 L138.8,315.7 L139.8,319.2 L140.8,325.7 L141.4,327.2 L141.8,327.0 L142.8,326.0 L143.8,324.6 L144.4,324.1 L144.8,324.6 L145.8,327.4 L146.8,331.0 L147.5,333.2 L147.8,334.1 L148.8,337.1 L149.3,338.0 L149.8,337.3 L150.8,334.0 L151.8,331.6 L151.9,331.6 L152.8,335.6 L153.6,340.3 L153.8,341.0 L154.8,344.2 L155.8,346.5 L156.8,347.9 L157.1,348.1 L157.8,347.6 L158.8,346.2 L159.8,344.8 L160.5,344.1 L160.8,344.5 L161.8,347.3 L162.8,350.3 L163.1,350.3 L163.8,350.4 L164.8,350.5 L165.8,350.5 L166.8,351.0 L167.8,351.6 L168.3,351.6 L168.8,352.0 L169.8,354.2 L170.8,357.0 L171.8,359.2 L172.8,360.3 L173.8,361.6 L174.8,362.9 L175.3,362.5 L175.8,361.8 L176.8,358.9 L177.8,356.3 L177.9,355.9 L178.8,356.9 L179.8,359.5 L180.0,360.4 L180.8,362.5 L181.8,365.7 L182.6,367.3 L182.8,366.8 L183.8,366.0 L184.8,365.4 L185.2,365.2 L185.8,365.8 L186.8,368.1 L187.8,370.6 L188.7,372.1 L188.8,372.0 L189.8,370.4 L190.8,368.5 L191.3,368.2 L191.8,368.7 L192.8,370.9 L193.8,372.9 L193.9,372.9 L194.8,371.8 L195.8,371.2 L196.5,371.9 L196.8,372.3 L197.8,374.6 L198.8,377.3 L199.1,377.8 L199.8,376.3 L200.8,374.1 L201.8,374.1 L202.8,374.2 L203.8,374.9 L204.8,375.3 L205.2,375.1 L205.8,376.1 L206.8,378.4 L207.8,380.3 L208.6,380.8 L208.8,380.9 L209.8,379.6 L210.8,378.0 L211.3,377.6 L211.8,377.9 L212.8,379.8 L213.8,380.7 L213.9,380.0 L214.8,380.0 L215.8,379.7 L216.8,379.3 L217.8,379.2 L218.2,379.4 L218.8,379.5 L219.8,380.4 L220.8,382.1 L221.8,383.8 L222.5,384.7 L222.8,385.0 L223.8,385.9 L224.8,387.1 L225.8,387.7 L226.0,387.1 L226.8,386.3 L227.8,384.5 L228.6,383.9 L228.8,383.8 L229.8,385.6 L230.8,388.7 L231.8,390.6 L232.0,390.6 L232.8,390.4 L233.8,388.8 L234.8,386.9 L235.6,385.3 L235.8,384.9 L236.8,383.0 L237.8,381.1 L238.2,380.9 L238.8,382.5 L239.8,388.2 L240.8,392.4 L241.8,393.4 L242.8,393.6 L243.4,393.4 L243.8,393.4 L244.8,390.9 L245.8,387.2 L246.8,385.1 L247.8,387.2 L248.8,391.3 L249.4,393.0 L249.8,393.9 L250.8,396.5 L251.8,398.3 L252.8,398.5 L252.9,398.2 L253.8,398.0 L254.8,396.4 L255.8,394.8 L256.4,394.5 L256.8,394.4 L257.8,394.2 L258.8,393.4 L259.0,393.0 L259.8,394.6 L260.8,398.1 L261.6,399.8 L261.8,399.0 L262.8,397.4 L263.8,395.5 L264.6,394.9 L264.8,395.1 L265.8,396.5 L266.8,398.3 L267.2,398.7 L267.8,399.8 L268.8,402.7 L269.8,404.1 L270.8,400.2 L271.5,396.7 L271.8,395.7 L272.8,393.2 L273.3,392.9 L273.8,393.5 L274.8,395.8 L275.8,397.6 L275.9,397.5 L276.8,397.7 L277.8,397.8 L278.8,397.8 L279.4,398.2 L279.8,399.2 L280.8,400.6 L281.8,402.3 L282.0,402.6 L282.8,403.9 L283.8,406.0 L284.6,406.5 L284.8,405.7 L285.8,403.0 L286.8,399.6 L287.2,399.0 L287.8,399.5 L288.8,401.8 L289.8,404.2 L290.8,406.6 L291.8,408.7 L292.4,409.5 L292.8,410.3 L293.8,409.8 L294.8,408.7 L295.0,408.5 L295.8,407.4 L296.8,406.0 L297.6,405.4 L297.8,405.2 L298.8,406.9 L299.8,409.2 L300.2,409.7 L300.8,410.2 L301.8,411.3 L302.8,411.7 L303.7,411.8 L303.8,412.0 L304.8,411.0 L305.8,409.6 L306.3,409.0 L306.8,407.8 L307.8,405.1 L308.8,403.5 L308.9,403.4 L309.8,404.7 L310.8,407.8 L311.5,409.6 L311.8,410.1 L312.8,412.9 L313.8,415.2 L314.1,415.4 L314.8,414.4 L315.8,411.6 L316.8,408.9 L317.6,407.8 L317.8,408.2 L318.8,409.7 L319.8,411.6 L320.2,412.3 L320.8,413.8 L321.8,416.4 L322.8,417.6 L323.8,415.6 L324.8,412.0 L325.4,410.5 L325.8,409.9 L326.8,408.3 L327.8,407.4 L328.0,407.2 L328.8,408.7 L329.8,413.0 L330.6,416.1 L330.8,416.5 L331.8,418.6 L332.8,420.6 L333.2,421.2 L333.8,419.4 L334.8,415.0 L335.8,412.3 L336.8,413.7 L337.8,416.3 L338.4,417.6 L338.8,418.3 L339.8,420.3 L340.8,421.1 L341.0,421.3 L341.8,420.5 L342.8,417.2 L343.6,415.9 L343.8,415.8 L344.8,417.7 L345.5,419.5 L345.8,420.1 L346.8,422.3 L347.6,423.3 L347.8,423.2 L348.8,421.8 L349.8,419.9 L350.8,419.2 L351.0,419.8 L351.8,419.5 L352.8,419.5 L353.8,419.7 L354.5,420.1 L354.8,420.3 L355.8,422.3 L356.8,424.4 L357.2,424.7 L357.8,424.5 L358.8,424.3 L359.8,423.6 L360.6,423.0 L360.8,422.8 L361.8,421.4 L362.8,420.6 L363.2,420.5 L363.8,421.0 L364.8,423.7 L365.8,425.7 L366.8,425.9 L367.8,426.3 L368.4,426.9 L368.8,426.8 L369.8,424.5 L370.8,422.5 L371.0,422.2 L371.8,423.1 L372.8,425.7 L373.8,427.8 L374.5,428.5 L374.8,429.1 L375.8,426.6 L376.8,423.6 L377.8,421.7 L378.0,420.8 L378.8,421.3 L379.8,423.0 L380.6,424.6 L380.8,425.4 L381.8,429.4 L382.3,430.0 L382.8,429.5 L383.8,427.6 L384.8,426.4 L384.9,426.2 L385.8,425.7 L386.8,425.5 L387.5,425.9 L387.8,426.7 L388.8,427.5 L389.8,428.0 L390.8,428.5 L391.0,428.7 L391.8,428.9 L392.8,429.1 L393.8,429.3 L394.5,429.9 L394.8,430.2 L395.8,429.3 L396.8,428.5 L397.8,427.8 L398.0,427.3 L398.8,426.6 L399.8,425.7 L400.8,424.7 L401.4,424.4 L401.8,424.9 L402.8,425.7 L403.8,426.6 L404.8,427.5 L404.9,427.2 L405.8,426.3 L406.8,425.4 L407.8,424.4 L408.4,423.6 L408.8,422.6 L409.8,421.1 L410.8,419.7 L411.8,417.9 L412.8,415.3 L413.6,411.9 L413.8,410.6 L414.8,399.7 L415.7,385.8 L415.8,383.3 L416.2,373.7 L416.2,389.3 L416.2,389.3 L416.2,399.7 L415.8,410.4 L415.7,411.9 L414.8,424.0 L413.8,431.0 L413.6,431.7 L412.8,433.5 L411.8,435.2 L411.0,436.3 L410.8,436.7 L409.8,437.5 L408.8,437.7 L408.4,437.8 L407.8,438.7 L406.8,440.7 L405.8,441.8 L404.8,441.1 L403.8,440.3 L403.2,440.2 L402.8,440.7 L401.8,442.2 L400.8,443.5 L400.6,443.2 L399.8,444.0 L398.8,445.2 L397.8,445.9 L397.1,446.3 L396.8,446.4 L395.8,447.1 L394.8,447.9 L394.5,448.8 L393.8,448.3 L392.8,446.4 L391.9,445.0 L391.8,444.6 L390.8,446.0 L389.8,447.3 L388.8,447.9 L388.4,448.2 L387.8,448.0 L386.8,447.7 L385.8,447.4 L384.9,447.0 L384.8,447.2 L383.8,447.9 L382.8,448.9 L381.8,449.1 L381.5,448.8 L380.8,448.3 L379.8,446.1 L378.9,444.4 L378.8,444.9 L377.8,443.8 L376.8,442.8 L376.2,442.5 L375.8,442.8 L374.8,446.1 L373.8,448.9 L373.6,449.0 L372.8,448.2 L371.8,446.0 L371.0,445.2 L370.8,445.8 L369.8,445.8 L368.8,445.3 L367.8,445.1 L367.6,445.3 L366.8,445.2 L365.8,443.8 L364.8,442.5 L364.1,442.0 L363.8,442.0 L362.8,442.7 L361.8,443.4 L361.5,444.0 L360.8,445.5 L359.8,447.9 L358.9,448.6 L358.8,449.2 L357.8,448.8 L356.8,447.0 L356.3,445.9 L355.8,444.8 L354.8,442.9 L353.8,441.3 L353.7,441.2 L352.8,441.1 L351.8,440.3 L350.8,439.2 L350.2,439.3 L349.8,440.0 L348.8,442.8 L347.8,445.3 L347.6,445.2 L346.8,443.3 L345.8,440.1 L345.5,439.9 L344.8,440.1 L343.8,440.9 L343.6,441.3 L342.8,440.4 L341.8,437.0 L341.0,435.0 L340.8,435.2 L339.8,438.0 L338.8,440.8 L338.4,441.1 L337.8,440.7 L336.8,440.0 L335.8,439.8 L334.9,440.0 L334.8,440.5 L333.8,440.5 L332.8,439.7 L331.8,438.9 L331.4,438.9 L330.8,438.7 L329.8,437.1 L328.8,435.1 L328.0,434.3 L327.8,434.7 L326.8,435.2 L325.8,434.8 L324.8,434.0 L324.5,433.9 L323.8,434.3 L322.8,433.6 L321.8,432.2 L321.0,431.6 L320.8,431.9 L319.8,431.9 L318.8,431.9 L317.8,432.6 L317.6,433.2 L316.8,432.1 L315.8,430.1 L314.8,428.9 L314.1,429.6 L313.8,430.4 L312.8,430.8 L311.8,431.1 L310.8,430.9 L310.6,430.6 L309.8,430.2 L308.8,428.9 L307.8,428.0 L307.1,427.8 L306.8,427.7 L305.8,428.8 L304.8,430.3 L303.8,431.2 L303.7,431.5 L302.8,432.2 L301.8,432.3 L300.8,432.1 L300.2,432.5 L299.8,433.0 L298.8,431.6 L297.8,430.3 L296.8,429.9 L296.7,429.5 L295.8,429.6 L294.8,430.6 L294.1,431.1 L293.8,430.9 L292.8,429.1 L291.8,426.8 L290.8,425.6 L290.6,425.3 L289.8,426.3 L288.8,429.2 L288.0,430.6 L287.8,430.7 L286.8,428.7 L285.8,425.7 L284.8,423.4 L284.6,423.0 L283.8,424.8 L282.8,427.5 L282.0,428.7 L281.8,429.4 L280.8,428.4 L279.8,426.4 L279.4,425.6 L278.8,424.1 L277.8,421.1 L276.8,419.5 L275.8,420.6 L274.8,423.4 L273.8,425.8 L273.3,426.1 L272.8,425.5 L271.8,422.5 L270.8,420.2 L270.7,419.9 L269.8,421.4 L268.8,424.0 L268.1,424.4 L267.8,424.6 L266.8,423.6 L265.8,422.2 L265.5,422.0 L264.8,421.0 L263.8,419.1 L263.0,418.4 L262.8,418.5 L261.8,420.0 L260.8,421.5 L260.7,422.2 L259.8,420.4 L258.8,416.4 L257.8,413.1 L257.3,412.5 L256.8,412.6 L255.8,413.6 L254.8,414.4 L254.7,414.3 L253.8,414.9 L252.8,415.3 L251.8,415.7 L251.2,416.0 L250.8,416.1 L249.8,414.4 L248.8,412.0 L247.8,411.1 L247.7,411.0 L246.8,411.5 L245.8,412.9 L244.8,414.1 L244.2,414.3 L243.8,414.3 L242.8,414.4 L241.8,414.4 L240.8,414.8 L239.8,414.0 L238.8,412.2 L237.8,410.8 L237.3,410.5 L236.8,411.0 L235.8,413.9 L234.8,415.9 L234.7,415.5 L233.8,413.8 L232.8,409.2 L232.0,406.1 L231.8,405.7 L230.8,403.5 L229.8,401.4 L228.8,399.7 L228.6,399.3 L227.8,399.6 L226.8,400.1 L225.8,400.0 L225.1,399.5 L224.8,399.1 L223.8,397.1 L222.8,394.6 L221.8,393.1 L221.7,393.0 L220.8,393.3 L219.8,395.0 L218.8,396.7 L218.2,397.3 L217.8,397.3 L216.8,395.7 L215.8,393.2 L214.8,391.5 L214.7,391.6 L213.8,392.8 L212.8,395.0 L211.8,396.8 L211.3,396.9 L210.8,396.3 L209.8,394.0 L208.8,392.1 L208.6,392.8 L207.8,393.4 L206.8,394.0 L206.0,394.5 L205.8,394.5 L204.8,392.6 L203.8,390.2 L202.8,388.6 L202.6,388.6 L201.8,388.8 L200.8,389.1 L199.8,389.4 L199.1,389.6 L198.8,389.8 L197.8,389.2 L196.8,388.1 L196.5,387.7 L195.8,385.6 L194.8,382.0 L193.9,380.7 L193.8,380.6 L192.8,380.6 L191.8,381.1 L191.3,381.3 L190.8,380.9 L189.8,377.9 L189.5,377.9 L188.8,378.4 L187.8,379.7 L187.3,379.8 L186.8,379.8 L185.8,378.4 L185.2,378.0 L184.8,377.6 L183.8,378.4 L182.8,379.8 L182.6,380.7 L181.8,379.0 L180.8,376.2 L180.5,375.8 L179.8,376.4 L178.8,378.1 L177.8,377.5 L176.8,375.4 L175.8,373.5 L175.3,372.9 L174.8,373.1 L173.8,373.3 L172.8,373.0 L171.8,373.1 L170.8,372.2 L169.8,370.1 L169.2,369.1 L168.8,368.9 L167.8,368.1 L166.8,367.1 L165.8,366.5 L165.7,366.7 L164.8,366.2 L163.8,365.8 L162.8,365.5 L161.8,364.6 L161.4,364.0 L160.8,362.9 L159.8,360.6 L158.8,358.6 L157.8,357.0 L156.8,355.7 L155.8,354.8 L155.3,354.1 L154.8,354.6 L153.8,356.9 L152.8,358.7 L152.7,358.8 L151.8,358.1 L150.8,356.5 L150.1,355.1 L149.8,354.7 L148.8,354.5 L147.8,354.1 L146.8,352.8 L146.6,352.3 L145.8,349.7 L144.8,344.8 L144.0,342.5 L143.8,343.0 L142.8,346.4 L141.8,350.1 L141.4,350.2 L140.8,349.0 L139.8,342.6 L138.8,338.5 L137.8,338.6 L136.8,338.7 L136.2,338.8 L135.8,338.8 L134.8,336.3 L133.8,333.3 L133.6,332.6 L132.8,330.4 L131.8,328.0 L131.0,327.1 L130.8,327.4 L129.8,331.6 L128.8,336.6 L128.4,337.1 L127.8,334.9 L126.8,326.0 L125.8,317.5 L125.3,315.5 L124.8,316.8 L123.8,322.5 L122.8,329.3 L121.8,332.6 L120.8,323.1 L119.8,307.2 L119.7,306.0 L118.8,293.9 L118.0,288.3 L117.8,288.8 L116.8,303.5 L116.5,308.0 L115.8,318.6 L115.0,326.1 L114.8,325.4 L113.8,308.0Z" fill="#3DA44D" fill-opacity="0.5" stroke="none"/>
<path d="M113.7,302.5 L114.7,315.2 L114.9,315.6 L115.7,306.9 L116.3,297.0 L116.7,290.8 L117.7,278.0 L117.8,277.9 L118.7,284.3 L119.7,297.0 L120.7,311.6 L121.7,321.9 L121.8,321.9 L122.7,318.7 L123.7,310.4 L124.7,302.9 L125.3,301.2 L125.7,302.1 L126.7,308.6 L127.5,314.3 L127.7,315.5 L128.7,322.1 L129.3,323.6 L129.7,323.3 L130.7,321.4 L131.7,319.4 L131.9,319.4 L132.7,320.3 L133.7,322.2 L134.5,323.7 L134.7,324.4 L135.7,326.2 L136.7,327.1 L137.1,327.0 L137.7,327.1 L138.7,327.3 L139.7,327.4 L140.7,332.2 L141.4,334.9 L141.7,335.1 L142.7,335.1 L143.7,335.0 L144.0,334.9 L144.7,335.8 L145.7,338.4 L145.8,338.7 L146.7,340.0 L147.7,341.4 L148.4,342.2 L148.7,342.4 L149.7,344.3 L150.7,345.8 L151.0,345.7 L151.7,345.8 L152.7,346.0 L153.6,345.9 L153.7,345.9 L154.7,347.1 L155.7,349.2 L156.2,349.9 L156.7,350.4 L157.7,351.6 L158.7,352.6 L159.7,353.3 L160.7,354.3 L161.7,355.6 L162.7,356.4 L163.1,356.5 L163.7,356.7 L164.7,356.9 L165.7,357.7 L166.6,358.7 L166.7,359.1 L167.7,360.0 L168.7,360.7 L169.7,361.6 L170.1,362.0 L170.7,362.8 L171.7,364.4 L172.7,365.8 L173.6,366.2 L173.7,366.4 L174.7,365.9 L175.7,365.0 L176.2,364.9 L176.7,365.3 L177.7,367.4 L178.7,369.3 L178.8,369.1 L179.7,369.3 L180.7,369.6 L181.4,369.9 L181.7,370.1 L182.7,370.9 L183.7,371.6 L184.0,371.6 L184.7,372.3 L185.2,373.1 L185.7,374.0 L186.7,375.8 L187.7,376.6 L187.8,376.3 L188.7,376.3 L189.7,375.7 L190.4,375.3 L190.7,375.2 L191.7,375.5 L192.7,375.9 L193.0,375.9 L193.7,376.1 L194.7,376.9 L195.6,377.8 L195.7,377.7 L196.7,381.1 L197.4,383.0 L197.7,383.2 L198.7,382.5 L199.7,381.9 L200.0,381.9 L200.7,382.3 L201.7,383.1 L202.6,383.8 L202.7,383.8 L203.7,383.7 L204.7,383.6 L205.7,384.2 L206.0,384.8 L206.7,385.3 L207.7,385.8 L208.7,386.4 L209.5,386.8 L209.7,387.1 L210.7,387.1 L211.7,387.1 L212.7,387.3 L213.0,387.3 L213.7,386.9 L214.7,386.4 L215.7,386.3 L216.5,386.2 L216.7,386.4 L217.7,387.2 L218.7,387.5 L219.7,387.5 L219.9,387.8 L220.7,388.1 L221.7,388.1 L222.7,388.0 L223.4,388.1 L223.7,388.4 L224.7,390.3 L225.7,392.4 L226.0,392.6 L226.7,392.3 L227.7,391.7 L228.6,391.1 L228.7,390.9 L229.7,392.8 L230.7,395.6 L231.2,396.8 L231.7,397.9 L232.7,400.4 L233.7,402.1 L233.8,402.1 L234.7,400.8 L235.7,398.6 L236.4,397.3 L236.7,397.1 L237.7,396.0 L238.2,395.8 L238.7,396.4 L239.7,399.0 L240.7,401.8 L240.8,401.7 L241.7,403.3 L242.5,404.1 L242.7,404.1 L243.7,402.6 L244.7,400.1 L245.1,399.2 L245.7,398.1 L246.7,396.8 L246.8,396.9 L247.7,397.6 L248.7,399.6 L249.4,401.1 L249.7,401.7 L250.7,403.4 L251.7,404.9 L252.7,405.9 L252.9,406.0 L253.7,405.3 L254.7,403.9 L255.5,403.6 L255.7,403.8 L256.7,403.7 L257.3,403.4 L257.7,403.4 L258.7,404.9 L259.7,406.5 L259.9,406.9 L260.7,408.1 L261.7,409.4 L262.0,409.9 L262.7,409.3 L263.7,407.8 L264.6,407.2 L264.7,407.2 L265.7,409.1 L266.7,411.9 L267.2,412.4 L267.7,412.0 L268.7,410.6 L269.7,408.9 L269.8,409.0 L270.7,408.1 L271.5,407.6 L271.7,407.3 L272.7,408.1 L273.7,409.7 L274.2,410.5 L274.7,410.1 L275.7,408.8 L276.7,408.0 L276.8,408.4 L277.7,409.4 L278.7,411.4 L279.4,412.4 L279.7,412.4 L280.7,413.0 L281.7,413.4 L282.7,413.8 L282.8,414.3 L283.7,414.7 L284.7,415.1 L285.7,415.6 L286.3,416.0 L286.7,416.1 L287.7,415.9 L288.7,415.6 L289.7,415.7 L289.8,415.7 L290.7,416.6 L291.7,418.4 L292.4,419.2 L292.7,419.4 L293.7,419.8 L294.7,420.1 L295.0,420.1 L295.7,419.5 L296.7,418.2 L297.6,417.4 L297.7,417.4 L298.7,418.8 L299.7,420.7 L300.2,421.1 L300.7,421.1 L301.7,421.0 L302.7,420.7 L303.7,420.6 L304.7,420.2 L305.7,419.1 L306.3,418.6 L306.7,418.3 L307.7,417.7 L308.7,417.8 L308.9,418.2 L309.7,418.3 L310.7,419.2 L311.5,419.9 L311.7,420.1 L312.7,421.5 L313.7,422.8 L314.1,423.0 L314.7,422.8 L315.7,421.9 L316.7,420.9 L317.7,420.5 L318.7,420.5 L319.3,420.5 L319.7,420.7 L320.7,422.0 L321.7,423.7 L321.9,423.9 L322.7,425.3 L323.6,426.4 L323.7,426.3 L324.7,424.6 L325.7,422.4 L326.2,421.9 L326.7,421.5 L327.7,420.7 L328.0,421.0 L328.7,422.2 L329.7,424.9 L330.6,427.5 L330.7,427.5 L331.7,430.1 L332.3,430.8 L332.7,430.2 L333.7,427.5 L334.7,424.9 L334.9,424.6 L335.7,424.0 L336.7,423.7 L337.7,425.3 L338.7,428.4 L339.3,429.9 L339.7,430.5 L340.7,431.5 L341.0,431.5 L341.7,429.6 L342.7,426.5 L343.7,426.5 L344.5,427.0 L344.7,427.5 L345.7,430.4 L346.0,431.1 L346.7,432.9 L347.6,434.3 L347.7,434.4 L348.7,432.7 L349.7,430.4 L350.2,429.8 L350.7,430.1 L351.7,430.4 L352.7,430.9 L352.8,431.0 L353.7,432.0 L354.7,433.3 L355.4,434.0 L355.7,434.6 L356.7,435.1 L357.7,435.3 L358.7,435.9 L358.9,436.3 L359.7,435.7 L360.7,434.0 L361.5,432.7 L361.7,432.4 L362.7,431.2 L363.2,430.9 L363.7,431.4 L364.7,433.8 L365.7,436.2 L365.8,435.9 L366.7,436.5 L367.6,436.8 L367.7,437.7 L368.7,437.0 L369.7,435.0 L370.2,434.1 L370.7,434.2 L371.7,435.2 L372.7,436.1 L372.8,436.3 L373.7,436.3 L374.7,436.5 L375.4,436.9 L375.7,436.7 L376.7,434.7 L377.7,432.7 L378.0,432.7 L378.7,433.2 L379.7,434.4 L380.7,436.6 L381.7,439.0 L382.3,439.7 L382.7,439.8 L383.7,439.3 L384.0,438.9 L384.7,437.4 L385.7,435.6 L385.8,436.0 L386.7,437.1 L387.5,437.8 L387.7,437.7 L388.7,437.0 L389.7,436.3 L390.1,436.6 L390.7,436.8 L391.7,436.7 L392.7,437.1 L393.7,438.0 L394.7,438.7 L395.3,438.8 L395.7,438.9 L396.7,438.4 L397.7,437.5 L398.0,436.9 L398.7,436.1 L399.7,435.8 L400.6,435.6 L400.7,435.4 L401.7,434.2 L402.7,433.3 L403.7,432.7 L404.0,432.8 L404.7,433.0 L405.7,432.8 L406.6,432.7 L406.7,433.2 L407.7,432.8 L408.7,431.9 L409.2,431.2 L409.7,430.4 L410.7,428.9 L411.7,426.9 L411.8,426.7 L412.7,424.2 L413.6,420.6 L413.7,420.1 L414.7,412.8 L414.8,411.9 L415.7,399.7 L416.2,389.3" fill="none" stroke="#3DA44D" stroke-width="2" stroke-linejoin="round" stroke-linecap="butt"/>
<path d="M97.2,2 V462.9 H683" fill="none" stroke="#595959" stroke-width="1.7" stroke-linejoin="miter"/>
<path d="M113.6,462.9 v-4.6" stroke="#444" stroke-width="1"/>
<text x="113.8" y="485.4" class="tk" text-anchor="middle">0.0</text>
<path d="M259.0,462.9 v-4.6" stroke="#444" stroke-width="1"/>
<text x="259.2" y="485.4" class="tk" text-anchor="middle">0.5</text>
<path d="M404.4,462.9 v-4.6" stroke="#444" stroke-width="1"/>
<text x="404.6" y="485.4" class="tk" text-anchor="middle">1.0</text>
<path d="M549.8,462.9 v-4.6" stroke="#444" stroke-width="1"/>
<text x="550.0" y="485.4" class="tk" text-anchor="middle">1.5</text>
<path d="M97.2,24.7 h4.8" stroke="#444" stroke-width="1"/>
<text x="88.2" y="31.5" class="tk" text-anchor="end">0.045</text>
<path d="M97.2,92.6 h4.8" stroke="#444" stroke-width="1"/>
<text x="88.2" y="99.4" class="tk" text-anchor="end">0.040</text>
<path d="M97.2,160.6 h4.8" stroke="#444" stroke-width="1"/>
<text x="88.2" y="167.4" class="tk" text-anchor="end">0.035</text>
<path d="M97.2,228.5 h4.8" stroke="#444" stroke-width="1"/>
<text x="88.2" y="235.3" class="tk" text-anchor="end">0.030</text>
<path d="M97.2,296.4 h4.8" stroke="#444" stroke-width="1"/>
<text x="88.2" y="303.2" class="tk" text-anchor="end">0.025</text>
<path d="M97.2,364.4 h4.8" stroke="#444" stroke-width="1"/>
<text x="88.2" y="371.2" class="tk" text-anchor="end">0.020</text>
<path d="M97.2,432.3 h4.8" stroke="#444" stroke-width="1"/>
<text x="88.2" y="439.1" class="tk" text-anchor="end">0.015</text>
<rect x="508.4" y="335.7" width="154.9" height="111.6" fill="#fff" stroke="#333" stroke-width="1.2"/>
<path d="M515.5,358 H553.3" stroke="#C271D2" stroke-width="3.3" stroke-linecap="round"/>
<path d="M515.5,380.4 H553.3" stroke="#009AF9" stroke-width="3.3" stroke-linecap="round"/>
<path d="M515.5,402.8 H553.3" stroke="#E26F46" stroke-width="3.3" stroke-linecap="round"/>
<path d="M515.5,425.2 H553.3" stroke="#3DA44D" stroke-width="3.3" stroke-linecap="round"/>
<text x="560.2" y="363.8" class="lg" textLength="95.8" lengthAdjust="spacingAndGlyphs">nondipolar</text>
<text x="560.5" y="385.8" class="lg" font-weight="bold" textLength="15.5" lengthAdjust="spacingAndGlyphs">B</text>
<text transform="translate(580.6,389.1) scale(1,1.08)" class="lg">∥</text>
<text x="599.8" y="385.8" class="lg" font-style="italic">x</text>
<text x="604.6" y="386.9" class="hat" text-anchor="middle">ˆ</text>
<text x="560.5" y="408.2" class="lg" font-weight="bold" textLength="15.5" lengthAdjust="spacingAndGlyphs">B</text>
<text transform="translate(580.6,411.5) scale(1,1.08)" class="lg">∥</text>
<text x="599.8" y="408.2" class="lg" font-style="italic">y</text>
<text x="604.6" y="409.3" class="hat" text-anchor="middle">ˆ</text>
<text x="560.5" y="430.6" class="lg" font-weight="bold" textLength="15.5" lengthAdjust="spacingAndGlyphs">B</text>
<text transform="translate(580.6,433.9) scale(1,1.08)" class="lg">∥</text>
<text x="599.8" y="430.6" class="lg" font-style="italic">z</text>
<text x="604.6" y="431.7" class="hat" text-anchor="middle">ˆ</text>
<text x="366.3" y="508.5" class="gl" font-style="italic">t</text>
<text x="374.2" y="512" class="gl" style="font-size:34.5px">/</text>
<text x="386" y="508.5" class="gl" font-style="italic">t</text>
<text x="395.5" y="513.9" class="gl" style="font-size:15.5px">c0</text>
<g transform="translate(24.8,261.6) rotate(-90)"><text transform="translate(-2.9,1.7) scale(1.0,1.07)" class="gl br">⟨</text><text x="8.2" y="0" class="gl" font-style="italic">κ</text><text x="20.2" y="0" class="gl">(</text><text x="27.8" y="0" class="gl" font-style="italic">t</text><text x="38.2" y="0" class="gl">)</text><text transform="translate(46.2,1.7) scale(1.0,1.07)" class="gl br">⟩</text><path d="M9.6,-21.8 H48.2" stroke="#222" stroke-width="1.3"/></g>
</svg>
</body></html>
